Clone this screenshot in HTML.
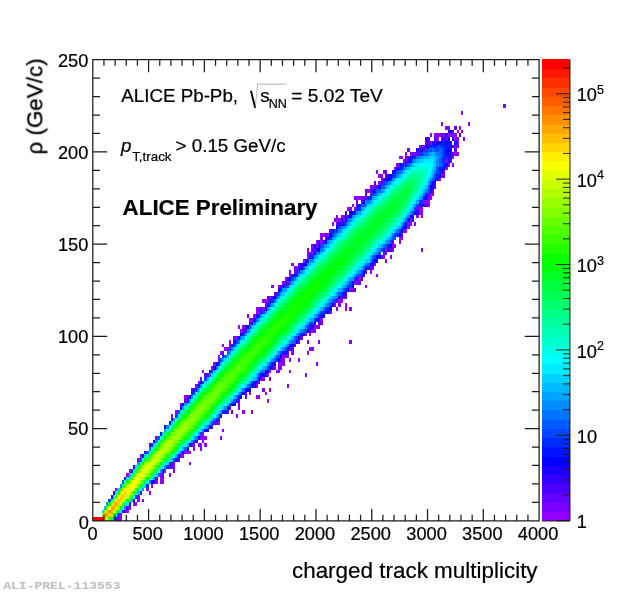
<!DOCTYPE html>
<html><head><meta charset="utf-8"><title>ALICE Preliminary</title>
<style>html,body{margin:0;padding:0;background:#fff;}body{width:620px;height:592px;position:relative;overflow:hidden;}</style>
</head><body>
<svg width="620" height="592" viewBox="0 0 620 592" style="position:absolute;left:0;top:0">
<rect width="620" height="592" fill="#fff"/>
<defs><filter id="soft" filterUnits="userSpaceOnUse" x="0" y="0" width="620" height="592"><feGaussianBlur stdDeviation="0.45"/></filter></defs>
<g shape-rendering="crispEdges" filter="url(#soft)">
<path fill="#9200ff" d="M119.58 517.11H121.81V520.80H119.58zM119.58 513.42H121.81V517.11H119.58zM126.27 509.73H128.50V513.42H126.27zM128.50 506.04H130.74V509.73H128.50zM132.97 502.36H137.43V506.04H132.97zM137.43 498.67H139.66V502.36H137.43zM141.89 498.67H144.12V502.36H141.89zM137.43 494.98H139.66V498.67H137.43zM148.59 491.29H150.82V494.98H148.59zM115.11 487.60H117.35V491.29H115.11zM146.36 487.60H148.59V491.29H146.36zM150.82 483.91H153.05V487.60H150.82zM155.28 480.22H157.51V483.91H155.28zM159.75 480.22H164.21V483.91H159.75zM159.75 476.53H164.21V480.22H159.75zM126.27 472.85H128.50V476.53H126.27zM159.75 472.85H161.98V476.53H159.75zM168.67 472.85H170.90V476.53H168.67zM128.50 469.16H130.74V472.85H128.50zM164.21 469.16H166.44V472.85H164.21zM173.13 469.16H175.37V472.85H173.13zM168.67 465.47H170.90V469.16H168.67zM173.13 465.47H175.37V469.16H173.13zM173.13 461.78H175.37V465.47H173.13zM188.75 461.78H190.99V465.47H188.75zM137.43 458.09H139.66V461.78H137.43zM139.66 454.40H141.89V458.09H139.66zM179.83 454.40H184.29V458.09H179.83zM184.29 450.71H190.99V454.40H184.29zM193.22 447.02H195.45V450.71H193.22zM199.91 447.02H202.14V450.71H199.91zM193.22 443.34H195.45V447.02H193.22zM197.68 443.34H202.14V447.02H197.68zM204.38 443.34H206.61V447.02H204.38zM202.14 439.65H204.38V443.34H202.14zM155.28 435.96H157.51V439.65H155.28zM199.91 435.96H206.61V439.65H199.91zM220.00 435.96H222.23V439.65H220.00zM202.14 432.27H204.38V435.96H202.14zM222.23 428.58H224.46V432.27H222.23zM217.76 421.20H220.00V424.89H217.76zM170.90 413.82H173.13V417.51H170.90zM235.62 413.82H237.85V417.51H235.62zM175.37 410.14H177.60V413.82H175.37zM242.31 410.14H244.54V413.82H242.31zM251.24 410.14H253.47V413.82H251.24zM237.85 406.45H240.08V410.14H237.85zM179.83 402.76H182.06V406.45H179.83zM266.86 399.07H269.09V402.76H266.86zM184.29 395.38H186.52V399.07H184.29zM255.70 395.38H260.16V399.07H255.70zM249.00 391.69H251.24V395.38H249.00zM264.63 391.69H266.86V395.38H264.63zM262.39 388.00H264.63V391.69H262.39zM269.09 388.00H271.32V391.69H269.09zM195.45 384.31H197.68V388.00H195.45zM255.70 384.31H257.93V388.00H255.70zM286.94 384.31H289.17V388.00H286.94zM197.68 380.63H199.91V384.31H197.68zM257.93 380.63H260.16V384.31H257.93zM199.91 376.94H202.14V380.63H199.91zM262.39 376.94H264.63V380.63H262.39zM269.09 376.94H271.32V380.63H269.09zM266.86 373.25H269.09V376.94H266.86zM304.79 373.25H307.02V376.94H304.79zM202.14 369.56H204.38V373.25H202.14zM269.09 369.56H271.32V373.25H269.09zM275.78 369.56H280.25V373.25H275.78zM289.17 369.56H291.40V373.25H289.17zM211.07 365.87H213.30V369.56H211.07zM273.55 365.87H275.78V369.56H273.55zM278.01 365.87H282.48V369.56H278.01zM213.30 362.18H215.53V365.87H213.30zM278.01 362.18H284.71V365.87H278.01zM315.95 362.18H318.18V365.87H315.95zM217.76 358.49H220.00V362.18H217.76zM282.48 358.49H284.71V362.18H282.48zM289.17 358.49H291.40V362.18H289.17zM298.10 358.49H300.33V362.18H298.10zM217.76 354.80H220.00V358.49H217.76zM282.48 354.80H289.17V358.49H282.48zM220.00 351.12H222.23V354.80H220.00zM291.40 351.12H293.63V354.80H291.40zM307.02 351.12H309.26V354.80H307.02zM224.46 347.43H228.92V351.12H224.46zM309.26 347.43H313.72V351.12H309.26zM222.23 343.74H224.46V347.43H222.23zM228.92 343.74H231.15V347.43H228.92zM228.92 340.05H231.15V343.74H228.92zM298.10 340.05H300.33V343.74H298.10zM307.02 340.05H309.26V343.74H307.02zM318.18 340.05H320.41V343.74H318.18zM349.42 340.05H351.65V343.74H349.42zM233.38 336.36H237.85V340.05H233.38zM304.79 332.67H307.02V336.36H304.79zM309.26 332.67H311.49V336.36H309.26zM240.08 328.98H242.31V332.67H240.08zM311.49 328.98H315.95V332.67H311.49zM237.85 325.29H240.08V328.98H237.85zM242.31 325.29H244.54V328.98H242.31zM313.72 325.29H320.41V328.98H313.72zM249.00 317.92H253.47V321.60H249.00zM320.41 317.92H322.64V321.60H320.41zM246.77 314.23H249.00V317.92H246.77zM253.47 314.23H255.70V317.92H253.47zM255.70 310.54H260.16V314.23H255.70zM329.34 310.54H331.57V314.23H329.34zM255.70 306.85H260.16V310.54H255.70zM262.39 306.85H264.63V310.54H262.39zM336.03 306.85H338.26V310.54H336.03zM344.96 306.85H347.19V310.54H344.96zM349.42 306.85H351.65V310.54H349.42zM333.80 303.16H336.03V306.85H333.80zM338.26 303.16H340.50V306.85H338.26zM344.96 303.16H347.19V306.85H344.96zM262.39 299.47H269.09V303.16H262.39zM338.26 299.47H342.73V303.16H338.26zM269.09 295.78H271.32V299.47H269.09zM349.42 288.41H353.89V292.09H349.42zM271.32 284.72H273.55V288.41H271.32zM278.01 284.72H280.25V288.41H278.01zM365.04 284.72H367.27V288.41H365.04zM282.48 281.03H284.71V284.72H282.48zM353.89 281.03H358.35V284.72H353.89zM284.71 277.34H286.94V281.03H284.71zM358.35 277.34H360.58V281.03H358.35zM289.17 273.65H291.40V277.34H289.17zM376.20 273.65H378.43V277.34H376.20zM289.17 269.96H291.40V273.65H289.17zM369.51 269.96H371.74V273.65H369.51zM293.63 266.27H298.10V269.96H293.63zM371.74 266.27H373.97V269.96H371.74zM291.40 262.58H293.63V266.27H291.40zM373.97 262.58H376.20V266.27H373.97zM302.56 258.90H304.79V262.58H302.56zM385.13 258.90H387.36V262.58H385.13zM307.02 255.21H309.26V258.90H307.02zM382.90 255.21H385.13V258.90H382.90zM389.59 255.21H391.82V258.90H389.59zM307.02 251.52H309.26V255.21H307.02zM311.49 251.52H313.72V255.21H311.49zM307.02 247.83H309.26V251.52H307.02zM385.13 247.83H387.36V251.52H385.13zM420.83 247.83H423.06V251.52H420.83zM311.49 244.14H313.72V247.83H311.49zM315.95 244.14H318.18V247.83H315.95zM391.82 244.14H396.28V247.83H391.82zM315.95 240.45H318.18V244.14H315.95zM320.41 240.45H322.64V244.14H320.41zM398.52 240.45H400.75V244.14H398.52zM320.41 236.76H322.64V240.45H320.41zM398.52 236.76H402.98V240.45H398.52zM320.41 233.07H324.88V236.76H320.41zM327.11 233.07H329.34V236.76H327.11zM402.98 229.38H407.44V233.07H402.98zM407.44 225.70H409.67V229.38H407.44zM331.57 222.01H333.80V225.70H331.57zM407.44 222.01H411.90V225.70H407.44zM414.14 222.01H416.37V225.70H414.14zM333.80 218.32H340.50V222.01H333.80zM342.73 218.32H344.96V222.01H342.73zM409.67 218.32H411.90V222.01H409.67zM336.03 214.63H338.26V218.32H336.03zM340.50 214.63H344.96V218.32H340.50zM416.37 214.63H418.60V218.32H416.37zM420.83 214.63H423.06V218.32H420.83zM418.60 210.94H423.06V214.63H418.60zM347.19 207.25H351.65V210.94H347.19zM353.89 207.25H356.12V210.94H353.89zM418.60 207.25H423.06V210.94H418.60zM351.65 203.56H353.89V207.25H351.65zM427.53 203.56H429.76V207.25H427.53zM423.06 199.87H429.76V203.56H423.06zM353.89 196.19H362.81V199.87H353.89zM427.53 196.19H431.99V199.87H427.53zM429.76 192.50H434.22V196.19H429.76zM367.27 188.81H369.51V192.50H367.27zM369.51 185.12H373.97V188.81H369.51zM378.43 181.43H380.66V185.12H378.43zM380.66 177.74H382.90V181.43H380.66zM438.68 177.74H440.91V181.43H438.68zM378.43 174.05H382.90V177.74H378.43zM440.91 174.05H443.15V177.74H440.91zM376.20 170.36H378.43V174.05H376.20zM382.90 170.36H385.13V174.05H382.90zM394.05 166.68H396.28V170.36H394.05zM445.38 166.68H447.61V170.36H445.38zM396.28 162.99H398.52V166.68H396.28zM447.61 162.99H449.84V166.68H447.61zM452.07 162.99H454.30V166.68H452.07zM402.98 159.30H405.21V162.99H402.98zM445.38 159.30H447.61V162.99H445.38zM398.52 155.61H402.98V159.30H398.52zM405.21 155.61H407.44V159.30H405.21zM452.07 155.61H454.30V159.30H452.07zM405.21 151.92H407.44V155.61H405.21zM409.67 151.92H414.14V155.61H409.67zM454.30 151.92H458.77V155.61H454.30zM407.44 148.23H409.67V151.92H407.44zM418.60 144.54H423.06V148.23H418.60zM454.30 144.54H456.53V148.23H454.30zM429.76 140.85H431.99V144.54H429.76zM456.53 140.85H458.77V144.54H456.53zM436.45 137.16H438.68V140.85H436.45zM454.30 137.16H458.77V140.85H454.30zM463.23 137.16H465.46V140.85H463.23zM429.76 133.48H431.99V137.16H429.76zM434.22 133.48H440.91V137.16H434.22zM443.15 133.48H445.38V137.16H443.15zM447.61 133.48H449.84V137.16H447.61zM452.07 133.48H456.53V137.16H452.07zM456.53 129.79H458.77V133.48H456.53zM461.00 129.79H463.23V133.48H461.00zM445.38 126.10H449.84V129.79H445.38zM458.77 126.10H461.00V129.79H458.77zM440.91 122.41H443.15V126.10H440.91zM467.69 122.41H469.92V126.10H467.69zM461.00 111.34H463.23V115.03H461.00zM503.40 103.97H505.63V107.65H503.40z"/>
<path fill="#6300ff" d="M115.11 517.11H119.58V520.80H115.11zM124.04 509.73H126.27V513.42H124.04zM126.27 506.04H128.50V509.73H126.27zM155.28 476.53H157.51V480.22H155.28zM161.98 472.85H164.21V476.53H161.98zM170.90 465.47H173.13V469.16H170.90zM170.90 461.78H173.13V465.47H170.90zM177.60 458.09H179.83V461.78H177.60zM144.12 450.71H146.36V454.40H144.12zM148.59 443.34H150.82V447.02H148.59zM190.99 443.34H193.22V447.02H190.99zM211.07 424.89H213.30V428.58H211.07zM213.30 421.20H217.76V424.89H213.30zM226.69 410.14H228.92V413.82H226.69zM231.15 410.14H233.38V413.82H231.15zM228.92 406.45H231.15V410.14H228.92zM237.85 402.76H240.08V406.45H237.85zM184.29 399.07H186.52V402.76H184.29zM237.85 399.07H240.08V402.76H237.85zM186.52 395.38H188.75V399.07H186.52zM244.54 395.38H246.77V399.07H244.54zM244.54 391.69H246.77V395.38H244.54zM190.99 388.00H193.22V391.69H190.99zM260.16 376.94H262.39V380.63H260.16zM204.38 373.25H208.84V376.94H204.38zM280.25 358.49H282.48V362.18H280.25zM222.23 351.12H224.46V354.80H222.23zM286.94 351.12H289.17V354.80H286.94zM289.17 347.43H293.63V351.12H289.17zM293.63 343.74H295.87V347.43H293.63zM300.33 336.36H302.56V340.05H300.33zM242.31 328.98H244.54V332.67H242.31zM309.26 325.29H311.49V328.98H309.26zM249.00 321.60H251.24V325.29H249.00zM318.18 321.60H322.64V325.29H318.18zM260.16 310.54H262.39V314.23H260.16zM264.63 303.16H266.86V306.85H264.63zM336.03 299.47H338.26V303.16H336.03zM266.86 295.78H269.09V299.47H266.86zM340.50 295.78H347.19V299.47H340.50zM273.55 292.09H278.01V295.78H273.55zM353.89 288.41H356.12V292.09H353.89zM280.25 284.72H282.48V288.41H280.25zM286.94 281.03H289.17V284.72H286.94zM358.35 281.03H360.58V284.72H358.35zM360.58 277.34H362.81V281.03H360.58zM360.58 273.65H362.81V277.34H360.58zM293.63 269.96H298.10V273.65H293.63zM365.04 269.96H367.27V273.65H365.04zM369.51 266.27H371.74V269.96H369.51zM298.10 262.58H300.33V266.27H298.10zM380.66 255.21H382.90V258.90H380.66zM309.26 251.52H311.49V255.21H309.26zM382.90 251.52H387.36V255.21H382.90zM311.49 247.83H315.95V251.52H311.49zM389.59 247.83H394.05V251.52H389.59zM391.82 240.45H394.05V244.14H391.82zM324.88 236.76H327.11V240.45H324.88zM324.88 233.07H327.11V236.76H324.88zM400.75 233.07H402.98V236.76H400.75zM329.34 229.38H331.57V233.07H329.34zM336.03 222.01H338.26V225.70H336.03zM344.96 214.63H347.19V218.32H344.96zM416.37 207.25H418.60V210.94H416.37zM356.12 203.56H358.35V207.25H356.12zM425.29 203.56H427.53V207.25H425.29zM356.12 199.87H358.35V203.56H356.12zM360.58 199.87H362.81V203.56H360.58zM362.81 196.19H367.27V199.87H362.81zM365.04 192.50H367.27V196.19H365.04zM369.51 192.50H371.74V196.19H369.51zM427.53 192.50H429.76V196.19H427.53zM365.04 188.81H367.27V192.50H365.04zM369.51 188.81H371.74V192.50H369.51zM431.99 188.81H434.22V192.50H431.99zM373.97 185.12H378.43V188.81H373.97zM434.22 185.12H436.45V188.81H434.22zM373.97 181.43H376.20V185.12H373.97zM385.13 174.05H387.36V177.74H385.13zM443.15 174.05H445.38V177.74H443.15zM385.13 170.36H387.36V174.05H385.13zM443.15 170.36H445.38V174.05H443.15zM405.21 159.30H407.44V162.99H405.21zM449.84 159.30H452.07V162.99H449.84zM407.44 155.61H409.67V159.30H407.44zM414.14 151.92H418.60V155.61H414.14zM452.07 151.92H454.30V155.61H452.07zM423.06 148.23H425.29V151.92H423.06zM454.30 148.23H456.53V151.92H454.30zM423.06 144.54H425.29V148.23H423.06zM456.53 144.54H458.77V148.23H456.53zM425.29 140.85H427.53V144.54H425.29zM427.53 137.16H429.76V140.85H427.53zM434.22 137.16H436.45V140.85H434.22zM440.91 137.16H443.15V140.85H440.91zM445.38 137.16H447.61V140.85H445.38zM440.91 133.48H443.15V137.16H440.91zM449.84 133.48H452.07V137.16H449.84zM452.07 129.79H454.30V133.48H452.07zM454.30 126.10H456.53V129.79H454.30z"/>
<path fill="#3300ff" d="M110.65 494.98H112.88V498.67H110.65zM112.88 491.29H115.11V494.98H112.88zM153.05 480.22H155.28V483.91H153.05zM124.04 476.53H126.27V480.22H124.04zM132.97 465.47H135.20V469.16H132.97zM153.05 439.65H155.28V443.34H153.05zM195.45 439.65H197.68V443.34H195.45zM206.61 428.58H208.84V432.27H206.61zM164.21 424.89H166.44V428.58H164.21zM170.90 417.51H173.13V421.20H170.90zM179.83 406.45H182.06V410.14H179.83zM233.38 402.76H235.62V406.45H233.38zM193.22 388.00H195.45V391.69H193.22zM251.24 384.31H253.47V388.00H251.24zM255.70 380.63H257.93V384.31H255.70zM264.63 373.25H266.86V376.94H264.63zM269.09 365.87H273.55V369.56H269.09zM282.48 351.12H284.71V354.80H282.48zM231.15 343.74H233.38V347.43H231.15zM233.38 340.05H235.62V343.74H233.38zM302.56 332.67H304.79V336.36H302.56zM309.26 328.98H311.49V332.67H309.26zM253.47 317.92H255.70V321.60H253.47zM318.18 317.92H320.41V321.60H318.18zM255.70 314.23H257.93V317.92H255.70zM322.64 314.23H324.88V317.92H322.64zM271.32 295.78H273.55V299.47H271.32zM342.73 292.09H347.19V295.78H342.73zM284.71 281.03H286.94V284.72H284.71zM286.94 277.34H289.17V281.03H286.94zM356.12 277.34H358.35V281.03H356.12zM362.81 273.65H365.04V277.34H362.81zM298.10 266.27H300.33V269.96H298.10zM300.33 262.58H302.56V266.27H300.33zM387.36 247.83H389.59V251.52H387.36zM318.18 244.14H320.41V247.83H318.18zM387.36 244.14H389.59V247.83H387.36zM318.18 240.45H320.41V244.14H318.18zM331.57 229.38H333.80V233.07H331.57zM338.26 222.01H342.73V225.70H338.26zM411.90 218.32H414.14V222.01H411.90zM411.90 214.63H414.14V218.32H411.90zM344.96 210.94H347.19V214.63H344.96zM416.37 210.94H418.60V214.63H416.37zM418.60 203.56H420.83V207.25H418.60zM423.06 203.56H425.29V207.25H423.06zM380.66 181.43H382.90V185.12H380.66zM434.22 181.43H436.45V185.12H434.22zM382.90 177.74H385.13V181.43H382.90zM436.45 177.74H438.68V181.43H436.45zM387.36 174.05H389.59V177.74H387.36zM391.82 170.36H394.05V174.05H391.82zM407.44 159.30H409.67V162.99H407.44zM409.67 155.61H411.90V159.30H409.67zM447.61 155.61H449.84V159.30H447.61zM449.84 151.92H452.07V155.61H449.84zM416.37 148.23H420.83V151.92H416.37zM427.53 144.54H429.76V148.23H427.53zM449.84 144.54H452.07V148.23H449.84zM427.53 140.85H429.76V144.54H427.53zM434.22 140.85H436.45V144.54H434.22zM438.68 140.85H440.91V144.54H438.68zM449.84 140.85H452.07V144.54H449.84zM425.29 137.16H427.53V140.85H425.29zM443.15 137.16H445.38V140.85H443.15zM445.38 133.48H447.61V137.16H445.38zM458.77 133.48H461.00V137.16H458.77z"/>
<path fill="#1b00ff" d="M132.97 498.67H135.20V502.36H132.97zM150.82 480.22H153.05V483.91H150.82zM175.37 458.09H177.60V461.78H175.37zM182.06 450.71H184.29V454.40H182.06zM197.68 435.96H199.91V439.65H197.68zM182.06 402.76H184.29V406.45H182.06zM242.31 391.69H244.54V395.38H242.31zM244.54 388.00H249.00V391.69H244.54zM262.39 373.25H264.63V376.94H262.39zM266.86 369.56H269.09V373.25H266.86zM213.30 365.87H215.53V369.56H213.30zM273.55 362.18H275.78V365.87H273.55zM286.94 347.43H289.17V351.12H286.94zM291.40 343.74H293.63V347.43H291.40zM298.10 336.36H300.33V340.05H298.10zM240.08 332.67H242.31V336.36H240.08zM307.02 328.98H309.26V332.67H307.02zM244.54 325.29H249.00V328.98H244.54zM313.72 321.60H315.95V325.29H313.72zM260.16 306.85H262.39V310.54H260.16zM278.01 288.41H280.25V292.09H278.01zM347.19 288.41H349.42V292.09H347.19zM300.33 266.27H302.56V269.96H300.33zM304.79 262.58H307.02V266.27H304.79zM371.74 262.58H373.97V266.27H371.74zM376.20 258.90H378.43V262.58H376.20zM378.43 255.21H380.66V258.90H378.43zM313.72 244.14H315.95V247.83H313.72zM322.64 240.45H324.88V244.14H322.64zM398.52 233.07H400.75V236.76H398.52zM405.21 225.70H407.44V229.38H405.21zM347.19 214.63H349.42V218.32H347.19zM409.67 214.63H411.90V218.32H409.67zM420.83 203.56H423.06V207.25H420.83zM423.06 196.19H427.53V199.87H423.06zM371.74 188.81H376.20V192.50H371.74zM431.99 185.12H434.22V188.81H431.99zM385.13 177.74H387.36V181.43H385.13zM438.68 174.05H440.91V177.74H438.68zM440.91 170.36H443.15V174.05H440.91zM396.28 166.68H398.52V170.36H396.28zM443.15 166.68H445.38V170.36H443.15zM447.61 159.30H449.84V162.99H447.61zM449.84 148.23H452.07V151.92H449.84zM452.07 144.54H454.30V148.23H452.07zM431.99 140.85H434.22V144.54H431.99zM445.38 140.85H447.61V144.54H445.38zM452.07 137.16H454.30V140.85H452.07zM449.84 129.79H452.07V133.48H449.84z"/>
<path fill="#0300ff" d="M128.50 502.36H130.74V506.04H128.50zM186.52 447.02H188.75V450.71H186.52zM188.75 443.34H190.99V447.02H188.75zM204.38 428.58H206.61V432.27H204.38zM208.84 424.89H211.07V428.58H208.84zM231.15 402.76H233.38V406.45H231.15zM240.08 395.38H242.31V399.07H240.08zM249.00 388.00H251.24V391.69H249.00zM199.91 380.63H202.14V384.31H199.91zM264.63 369.56H266.86V373.25H264.63zM215.53 362.18H217.76V365.87H215.53zM280.25 354.80H282.48V358.49H280.25zM295.87 340.05H298.10V343.74H295.87zM327.11 310.54H329.34V314.23H327.11zM329.34 306.85H331.57V310.54H329.34zM331.57 303.16H333.80V306.85H331.57zM273.55 295.78H275.78V299.47H273.55zM351.65 284.72H353.89V288.41H351.65zM289.17 277.34H291.40V281.03H289.17zM302.56 262.58H304.79V266.27H302.56zM376.20 255.21H378.43V258.90H376.20zM318.18 247.83H320.41V251.52H318.18zM389.59 244.14H391.82V247.83H389.59zM329.34 233.07H331.57V236.76H329.34zM400.75 229.38H402.98V233.07H400.75zM336.03 225.70H338.26V229.38H336.03zM402.98 225.70H405.21V229.38H402.98zM340.50 218.32H342.73V222.01H340.50zM344.96 218.32H347.19V222.01H344.96zM349.42 214.63H351.65V218.32H349.42zM349.42 210.94H353.89V214.63H349.42zM429.76 185.12H431.99V188.81H429.76zM387.36 177.74H389.59V181.43H387.36zM447.61 148.23H449.84V151.92H447.61zM425.29 144.54H427.53V148.23H425.29zM436.45 140.85H438.68V144.54H436.45zM447.61 137.16H449.84V140.85H447.61z"/>
<path fill="#0014ff" d="M121.81 509.73H124.04V513.42H121.81zM161.98 469.16H164.21V472.85H161.98zM141.89 454.40H144.12V458.09H141.89zM177.60 454.40H179.83V458.09H177.60zM159.75 432.27H161.98V435.96H159.75zM168.67 421.20H170.90V424.89H168.67zM220.00 413.82H222.23V417.51H220.00zM222.23 410.14H226.69V413.82H222.23zM226.69 406.45H228.92V410.14H226.69zM186.52 399.07H188.75V402.76H186.52zM235.62 399.07H237.85V402.76H235.62zM188.75 395.38H190.99V399.07H188.75zM237.85 395.38H240.08V399.07H237.85zM197.68 384.31H199.91V388.00H197.68zM253.47 384.31H255.70V388.00H253.47zM253.47 380.63H255.70V384.31H253.47zM257.93 376.94H260.16V380.63H257.93zM260.16 373.25H262.39V376.94H260.16zM208.84 369.56H211.07V373.25H208.84zM271.32 362.18H273.55V365.87H271.32zM278.01 358.49H280.25V362.18H278.01zM284.71 351.12H286.94V354.80H284.71zM289.17 343.74H291.40V347.43H289.17zM237.85 336.36H240.08V340.05H237.85zM311.49 325.29H313.72V328.98H311.49zM309.26 321.60H311.49V325.29H309.26zM315.95 317.92H318.18V321.60H315.95zM320.41 314.23H322.64V317.92H320.41zM324.88 310.54H327.11V314.23H324.88zM264.63 306.85H266.86V310.54H264.63zM266.86 303.16H269.09V306.85H266.86zM269.09 299.47H271.32V303.16H269.09zM338.26 295.78H340.50V299.47H338.26zM282.48 284.72H284.71V288.41H282.48zM351.65 281.03H353.89V284.72H351.65zM293.63 273.65H295.87V277.34H293.63zM362.81 269.96H365.04V273.65H362.81zM365.04 266.27H367.27V269.96H365.04zM369.51 262.58H371.74V266.27H369.51zM304.79 258.90H307.02V262.58H304.79zM373.97 258.90H376.20V262.58H373.97zM309.26 255.21H311.49V258.90H309.26zM313.72 251.52H315.95V255.21H313.72zM315.95 247.83H318.18V251.52H315.95zM324.88 240.45H327.11V244.14H324.88zM342.73 222.01H344.96V225.70H342.73zM405.21 222.01H407.44V225.70H405.21zM407.44 218.32H409.67V222.01H407.44zM414.14 210.94H416.37V214.63H414.14zM358.35 203.56H360.58V207.25H358.35zM362.81 199.87H365.04V203.56H362.81zM429.76 188.81H431.99V192.50H429.76zM378.43 185.12H380.66V188.81H378.43zM431.99 181.43H434.22V185.12H431.99zM389.59 177.74H391.82V181.43H389.59zM389.59 174.05H391.82V177.74H389.59zM394.05 170.36H396.28V174.05H394.05zM400.75 166.68H402.98V170.36H400.75zM438.68 166.68H440.91V170.36H438.68zM398.52 162.99H402.98V166.68H398.52zM443.15 162.99H447.61V166.68H443.15zM409.67 159.30H411.90V162.99H409.67zM411.90 155.61H414.14V159.30H411.90zM445.38 151.92H449.84V155.61H445.38zM420.83 148.23H423.06V151.92H420.83zM445.38 148.23H447.61V151.92H445.38zM434.22 144.54H436.45V148.23H434.22zM445.38 144.54H449.84V148.23H445.38zM440.91 140.85H443.15V144.54H440.91zM447.61 140.85H449.84V144.54H447.61zM454.30 140.85H456.53V144.54H454.30zM447.61 129.79H449.84V133.48H447.61z"/>
<path fill="#002cff" d="M135.20 494.98H137.43V498.67H135.20zM139.66 491.29H141.89V494.98H139.66zM146.36 483.91H148.59V487.60H146.36zM130.74 469.16H132.97V472.85H130.74zM166.44 465.47H168.67V469.16H166.44zM168.67 461.78H170.90V465.47H168.67zM150.82 443.34H153.05V447.02H150.82zM215.53 417.51H220.00V421.20H215.53zM190.99 391.69H193.22V395.38H190.99zM217.76 362.18H220.00V365.87H217.76zM275.78 358.49H278.01V362.18H275.78zM222.23 354.80H224.46V358.49H222.23zM242.31 332.67H244.54V336.36H242.31zM300.33 332.67H302.56V336.36H300.33zM244.54 328.98H246.77V332.67H244.54zM251.24 321.60H253.47V325.29H251.24zM257.93 314.23H260.16V317.92H257.93zM318.18 314.23H320.41V317.92H318.18zM322.64 310.54H324.88V314.23H322.64zM324.88 306.85H329.34V310.54H324.88zM271.32 299.47H273.55V303.16H271.32zM340.50 292.09H342.73V295.78H340.50zM280.25 288.41H282.48V292.09H280.25zM344.96 288.41H347.19V292.09H344.96zM347.19 284.72H349.42V288.41H347.19zM291.40 273.65H293.63V277.34H291.40zM295.87 273.65H298.10V277.34H295.87zM367.27 266.27H369.51V269.96H367.27zM307.02 258.90H309.26V262.58H307.02zM371.74 258.90H373.97V262.58H371.74zM311.49 255.21H313.72V258.90H311.49zM382.90 247.83H385.13V251.52H382.90zM327.11 236.76H331.57V240.45H327.11zM394.05 233.07H398.52V236.76H394.05zM336.03 229.38H338.26V233.07H336.03zM353.89 210.94H356.12V214.63H353.89zM356.12 207.25H360.58V210.94H356.12zM418.60 199.87H420.83V203.56H418.60zM367.27 196.19H371.74V199.87H367.27zM425.29 192.50H427.53V196.19H425.29zM434.22 177.74H436.45V181.43H434.22zM391.82 174.05H396.28V177.74H391.82zM436.45 174.05H438.68V177.74H436.45zM438.68 170.36H440.91V174.05H438.68zM398.52 166.68H400.75V170.36H398.52zM440.91 166.68H443.15V170.36H440.91zM405.21 162.99H407.44V166.68H405.21zM443.15 159.30H445.38V162.99H443.15zM414.14 155.61H416.37V159.30H414.14zM443.15 155.61H447.61V159.30H443.15zM449.84 155.61H452.07V159.30H449.84zM420.83 151.92H423.06V155.61H420.83zM443.15 151.92H445.38V155.61H443.15zM443.15 148.23H445.38V151.92H443.15zM429.76 144.54H434.22V148.23H429.76zM440.91 144.54H445.38V148.23H440.91zM443.15 140.85H445.38V144.54H443.15z"/>
<path fill="#0044ff" d="M117.35 513.42H119.58V517.11H117.35zM108.42 498.67H110.65V502.36H108.42zM121.81 480.22H124.04V483.91H121.81zM173.13 458.09H175.37V461.78H173.13zM193.22 439.65H195.45V443.34H193.22zM199.91 432.27H202.14V435.96H199.91zM175.37 413.82H177.60V417.51H175.37zM228.92 402.76H231.15V406.45H228.92zM233.38 399.07H235.62V402.76H233.38zM193.22 391.69H195.45V395.38H193.22zM195.45 388.00H197.68V391.69H195.45zM249.00 384.31H251.24V388.00H249.00zM202.14 380.63H204.38V384.31H202.14zM251.24 380.63H253.47V384.31H251.24zM204.38 376.94H206.61V380.63H204.38zM211.07 369.56H213.30V373.25H211.07zM266.86 365.87H269.09V369.56H266.86zM220.00 358.49H222.23V362.18H220.00zM275.78 354.80H278.01V358.49H275.78zM280.25 351.12H282.48V354.80H280.25zM228.92 347.43H231.15V351.12H228.92zM284.71 347.43H286.94V351.12H284.71zM233.38 343.74H235.62V347.43H233.38zM235.62 340.05H237.85V343.74H235.62zM295.87 336.36H298.10V340.05H295.87zM304.79 328.98H307.02V332.67H304.79zM307.02 325.29H309.26V328.98H307.02zM311.49 321.60H313.72V325.29H311.49zM313.72 317.92H315.95V321.60H313.72zM262.39 310.54H264.63V314.23H262.39zM320.41 310.54H322.64V314.23H320.41zM269.09 303.16H271.32V306.85H269.09zM329.34 303.16H331.57V306.85H329.34zM333.80 299.47H336.03V303.16H333.80zM275.78 295.78H278.01V299.47H275.78zM278.01 292.09H280.25V295.78H278.01zM342.73 288.41H344.96V292.09H342.73zM284.71 284.72H286.94V288.41H284.71zM349.42 284.72H351.65V288.41H349.42zM349.42 281.03H351.65V284.72H349.42zM291.40 277.34H293.63V281.03H291.40zM353.89 277.34H356.12V281.03H353.89zM358.35 273.65H360.58V277.34H358.35zM298.10 269.96H300.33V273.65H298.10zM360.58 269.96H362.81V273.65H360.58zM302.56 266.27H304.79V269.96H302.56zM373.97 255.21H376.20V258.90H373.97zM378.43 251.52H380.66V255.21H378.43zM380.66 247.83H382.90V251.52H380.66zM320.41 244.14H322.64V247.83H320.41zM389.59 240.45H391.82V244.14H389.59zM391.82 236.76H394.05V240.45H391.82zM331.57 233.07H333.80V236.76H331.57zM333.80 229.38H336.03V233.07H333.80zM398.52 229.38H400.75V233.07H398.52zM338.26 225.70H340.50V229.38H338.26zM402.98 222.01H405.21V225.70H402.98zM411.90 210.94H414.14V214.63H411.90zM414.14 207.25H416.37V210.94H414.14zM362.81 203.56H365.04V207.25H362.81zM416.37 203.56H418.60V207.25H416.37zM420.83 199.87H423.06V203.56H420.83zM371.74 192.50H376.20V196.19H371.74zM427.53 188.81H429.76V192.50H427.53zM382.90 185.12H385.13V188.81H382.90zM382.90 181.43H387.36V185.12H382.90zM429.76 181.43H431.99V185.12H429.76zM434.22 174.05H436.45V177.74H434.22zM396.28 170.36H398.52V174.05H396.28zM436.45 170.36H438.68V174.05H436.45zM436.45 166.68H438.68V170.36H436.45zM402.98 162.99H405.21V166.68H402.98zM440.91 159.30H443.15V162.99H440.91zM440.91 155.61H443.15V159.30H440.91zM418.60 151.92H420.83V155.61H418.60zM425.29 148.23H427.53V151.92H425.29zM429.76 148.23H431.99V151.92H429.76zM436.45 148.23H438.68V151.92H436.45zM436.45 144.54H440.91V148.23H436.45z"/>
<path fill="#005cff" d="M157.51 472.85H159.75V476.53H157.51zM139.66 458.09H141.89V461.78H139.66zM146.36 450.71H148.59V454.40H146.36zM184.29 447.02H186.52V450.71H184.29zM157.51 435.96H159.75V439.65H157.51zM211.07 421.20H213.30V424.89H211.07zM217.76 413.82H220.00V417.51H217.76zM177.60 410.14H179.83V413.82H177.60zM240.08 391.69H242.31V395.38H240.08zM257.93 373.25H260.16V376.94H257.93zM269.09 362.18H271.32V365.87H269.09zM273.55 358.49H275.78V362.18H273.55zM224.46 354.80H226.69V358.49H224.46zM278.01 354.80H280.25V358.49H278.01zM226.69 351.12H228.92V354.80H226.69zM291.40 340.05H295.87V343.74H291.40zM293.63 336.36H295.87V340.05H293.63zM298.10 332.67H300.33V336.36H298.10zM302.56 328.98H304.79V332.67H302.56zM249.00 325.29H251.24V328.98H249.00zM255.70 317.92H257.93V321.60H255.70zM273.55 299.47H275.78V303.16H273.55zM331.57 299.47H333.80V303.16H331.57zM338.26 292.09H340.50V295.78H338.26zM286.94 284.72H289.17V288.41H286.94zM289.17 281.03H291.40V284.72H289.17zM356.12 273.65H358.35V277.34H356.12zM362.81 266.27H365.04V269.96H362.81zM367.27 262.58H369.51V266.27H367.27zM371.74 255.21H373.97V258.90H371.74zM382.90 244.14H387.36V247.83H382.90zM394.05 236.76H396.28V240.45H394.05zM400.75 225.70H402.98V229.38H400.75zM344.96 222.01H347.19V225.70H344.96zM360.58 203.56H362.81V207.25H360.58zM376.20 188.81H380.66V192.50H376.20zM380.66 185.12H382.90V188.81H380.66zM427.53 185.12H429.76V188.81H427.53zM431.99 177.74H434.22V181.43H431.99zM398.52 170.36H400.75V174.05H398.52zM407.44 162.99H409.67V166.68H407.44zM438.68 162.99H443.15V166.68H438.68zM438.68 159.30H440.91V162.99H438.68zM425.29 151.92H427.53V155.61H425.29zM440.91 151.92H443.15V155.61H440.91zM427.53 148.23H429.76V151.92H427.53zM434.22 148.23H436.45V151.92H434.22zM440.91 148.23H443.15V151.92H440.91z"/>
<path fill="#0074ff" d="M112.88 517.11H115.11V520.80H112.88zM148.59 480.22H150.82V483.91H148.59zM153.05 476.53H155.28V480.22H153.05zM179.83 450.71H182.06V454.40H179.83zM148.59 447.02H150.82V450.71H148.59zM195.45 435.96H197.68V439.65H195.45zM206.61 424.89H208.84V428.58H206.61zM213.30 417.51H215.53V421.20H213.30zM235.62 395.38H237.85V399.07H235.62zM242.31 388.00H244.54V391.69H242.31zM246.77 384.31H249.00V388.00H246.77zM208.84 373.25H211.07V376.94H208.84zM262.39 369.56H264.63V373.25H262.39zM215.53 365.87H217.76V369.56H215.53zM231.15 347.43H233.38V351.12H231.15zM286.94 343.74H289.17V347.43H286.94zM237.85 340.05H240.08V343.74H237.85zM240.08 336.36H242.31V340.05H240.08zM304.79 325.29H307.02V328.98H304.79zM253.47 321.60H255.70V325.29H253.47zM322.64 306.85H324.88V310.54H322.64zM327.11 303.16H329.34V306.85H327.11zM336.03 295.78H338.26V299.47H336.03zM293.63 277.34H295.87V281.03H293.63zM365.04 262.58H367.27V266.27H365.04zM315.95 251.52H320.41V255.21H315.95zM320.41 247.83H322.64V251.52H320.41zM322.64 244.14H324.88V247.83H322.64zM333.80 233.07H336.03V236.76H333.80zM391.82 233.07H394.05V236.76H391.82zM396.28 229.38H398.52V233.07H396.28zM347.19 218.32H349.42V222.01H347.19zM405.21 218.32H407.44V222.01H405.21zM407.44 214.63H409.67V218.32H407.44zM367.27 199.87H369.51V203.56H367.27zM423.06 192.50H425.29V196.19H423.06zM425.29 188.81H427.53V192.50H425.29zM387.36 181.43H389.59V185.12H387.36zM402.98 166.68H405.21V170.36H402.98zM411.90 159.30H414.14V162.99H411.90zM416.37 155.61H418.60V159.30H416.37zM438.68 155.61H440.91V159.30H438.68zM423.06 151.92H425.29V155.61H423.06zM436.45 151.92H440.91V155.61H436.45zM431.99 148.23H434.22V151.92H431.99zM438.68 148.23H440.91V151.92H438.68z"/>
<path fill="#008bff" d="M124.04 506.04H126.27V509.73H124.04zM141.89 487.60H144.12V491.29H141.89zM119.58 483.91H121.81V487.60H119.58zM164.21 465.47H166.44V469.16H164.21zM137.43 461.78H139.66V465.47H137.43zM155.28 439.65H157.51V443.34H155.28zM190.99 439.65H193.22V443.34H190.99zM202.14 428.58H204.38V432.27H202.14zM166.44 424.89H168.67V428.58H166.44zM224.46 406.45H226.69V410.14H224.46zM190.99 395.38H193.22V399.07H190.99zM199.91 384.31H202.14V388.00H199.91zM255.70 376.94H257.93V380.63H255.70zM260.16 369.56H262.39V373.25H260.16zM264.63 365.87H266.86V369.56H264.63zM271.32 358.49H273.55V362.18H271.32zM278.01 351.12H280.25V354.80H278.01zM282.48 347.43H284.71V351.12H282.48zM289.17 340.05H291.40V343.74H289.17zM246.77 328.98H249.00V332.67H246.77zM300.33 328.98H302.56V332.67H300.33zM260.16 314.23H262.39V317.92H260.16zM315.95 314.23H318.18V317.92H315.95zM266.86 306.85H269.09V310.54H266.86zM329.34 299.47H331.57V303.16H329.34zM333.80 295.78H336.03V299.47H333.80zM282.48 288.41H284.71V292.09H282.48zM340.50 288.41H342.73V292.09H340.50zM344.96 284.72H347.19V288.41H344.96zM351.65 277.34H353.89V281.03H351.65zM300.33 269.96H302.56V273.65H300.33zM358.35 269.96H360.58V273.65H358.35zM307.02 262.58H309.26V266.27H307.02zM309.26 258.90H313.72V262.58H309.26zM369.51 258.90H371.74V262.58H369.51zM313.72 255.21H315.95V258.90H313.72zM376.20 251.52H378.43V255.21H376.20zM378.43 247.83H380.66V251.52H378.43zM327.11 240.45H329.34V244.14H327.11zM387.36 240.45H389.59V244.14H387.36zM331.57 236.76H333.80V240.45H331.57zM389.59 236.76H391.82V240.45H389.59zM338.26 229.38H340.50V233.07H338.26zM340.50 225.70H344.96V229.38H340.50zM398.52 225.70H400.75V229.38H398.52zM349.42 218.32H351.65V222.01H349.42zM351.65 214.63H353.89V218.32H351.65zM356.12 210.94H358.35V214.63H356.12zM409.67 210.94H411.90V214.63H409.67zM365.04 203.56H367.27V207.25H365.04zM414.14 203.56H416.37V207.25H414.14zM365.04 199.87H367.27V203.56H365.04zM420.83 196.19H423.06V199.87H420.83zM376.20 192.50H378.43V196.19H376.20zM380.66 188.81H382.90V192.50H380.66zM391.82 177.74H394.05V181.43H391.82zM429.76 177.74H431.99V181.43H429.76zM396.28 174.05H398.52V177.74H396.28zM400.75 170.36H402.98V174.05H400.75zM434.22 170.36H436.45V174.05H434.22zM409.67 162.99H411.90V166.68H409.67zM436.45 162.99H438.68V166.68H436.45zM414.14 159.30H416.37V162.99H414.14zM436.45 159.30H438.68V162.99H436.45zM418.60 155.61H420.83V159.30H418.60zM427.53 151.92H429.76V155.61H427.53z"/>
<path fill="#00a3ff" d="M106.19 502.36H108.42V506.04H106.19zM130.74 498.67H132.97V502.36H130.74zM159.75 469.16H161.98V472.85H159.75zM175.37 454.40H177.60V458.09H175.37zM186.52 443.34H188.75V447.02H186.52zM197.68 432.27H199.91V435.96H197.68zM164.21 428.58H166.44V432.27H164.21zM208.84 421.20H211.07V424.89H208.84zM173.13 417.51H175.37V421.20H173.13zM220.00 410.14H222.23V413.82H220.00zM182.06 406.45H184.29V410.14H182.06zM184.29 402.76H186.52V406.45H184.29zM231.15 399.07H233.38V402.76H231.15zM237.85 391.69H240.08V395.38H237.85zM249.00 380.63H251.24V384.31H249.00zM266.86 362.18H269.09V365.87H266.86zM222.23 358.49H224.46V362.18H222.23zM228.92 351.12H231.15V354.80H228.92zM244.54 332.67H246.77V336.36H244.54zM295.87 332.67H298.10V336.36H295.87zM307.02 321.60H309.26V325.29H307.02zM257.93 317.92H260.16V321.60H257.93zM311.49 317.92H313.72V321.60H311.49zM313.72 314.23H315.95V317.92H313.72zM264.63 310.54H266.86V314.23H264.63zM318.18 310.54H320.41V314.23H318.18zM271.32 303.16H273.55V306.85H271.32zM324.88 303.16H327.11V306.85H324.88zM278.01 295.78H280.25V299.47H278.01zM331.57 295.78H333.80V299.47H331.57zM280.25 292.09H282.48V295.78H280.25zM336.03 292.09H338.26V295.78H336.03zM284.71 288.41H286.94V292.09H284.71zM342.73 284.72H344.96V288.41H342.73zM291.40 281.03H293.63V284.72H291.40zM347.19 281.03H349.42V284.72H347.19zM349.42 277.34H351.65V281.03H349.42zM298.10 273.65H300.33V277.34H298.10zM353.89 273.65H356.12V277.34H353.89zM373.97 251.52H376.20V255.21H373.97zM322.64 247.83H324.88V251.52H322.64zM324.88 244.14H327.11V247.83H324.88zM380.66 244.14H382.90V247.83H380.66zM385.13 240.45H387.36V244.14H385.13zM336.03 233.07H338.26V236.76H336.03zM347.19 222.01H349.42V225.70H347.19zM400.75 222.01H402.98V225.70H400.75zM358.35 210.94H360.58V214.63H358.35zM360.58 207.25H362.81V210.94H360.58zM369.51 199.87H371.74V203.56H369.51zM416.37 199.87H418.60V203.56H416.37zM371.74 196.19H373.97V199.87H371.74zM418.60 196.19H420.83V199.87H418.60zM385.13 185.12H387.36V188.81H385.13zM389.59 181.43H391.82V185.12H389.59zM427.53 181.43H429.76V185.12H427.53zM431.99 174.05H434.22V177.74H431.99zM405.21 166.68H407.44V170.36H405.21zM420.83 155.61H425.29V159.30H420.83zM436.45 155.61H438.68V159.30H436.45zM429.76 151.92H431.99V155.61H429.76zM434.22 151.92H436.45V155.61H434.22z"/>
<path fill="#00bbff" d="M103.96 506.04H106.19V509.73H103.96zM137.43 491.29H139.66V494.98H137.43zM128.50 472.85H130.74V476.53H128.50zM170.90 458.09H173.13V461.78H170.90zM182.06 447.02H184.29V450.71H182.06zM193.22 435.96H195.45V439.65H193.22zM204.38 424.89H206.61V428.58H204.38zM215.53 413.82H217.76V417.51H215.53zM226.69 402.76H228.92V406.45H226.69zM188.75 399.07H190.99V402.76H188.75zM233.38 395.38H235.62V399.07H233.38zM197.68 388.00H199.91V391.69H197.68zM244.54 384.31H246.77V388.00H244.54zM206.61 376.94H208.84V380.63H206.61zM253.47 376.94H255.70V380.63H253.47zM255.70 373.25H257.93V376.94H255.70zM213.30 369.56H215.53V373.25H213.30zM262.39 365.87H264.63V369.56H262.39zM220.00 362.18H222.23V365.87H220.00zM273.55 354.80H275.78V358.49H273.55zM235.62 343.74H237.85V347.43H235.62zM284.71 343.74H286.94V347.43H284.71zM242.31 336.36H244.54V340.05H242.31zM291.40 336.36H293.63V340.05H291.40zM249.00 328.98H251.24V332.67H249.00zM251.24 325.29H253.47V328.98H251.24zM302.56 325.29H304.79V328.98H302.56zM309.26 317.92H311.49V321.60H309.26zM320.41 306.85H322.64V310.54H320.41zM327.11 299.47H329.34V303.16H327.11zM338.26 288.41H340.50V292.09H338.26zM344.96 281.03H347.19V284.72H344.96zM302.56 269.96H304.79V273.65H302.56zM356.12 269.96H358.35V273.65H356.12zM304.79 266.27H307.02V269.96H304.79zM360.58 266.27H362.81V269.96H360.58zM309.26 262.58H311.49V266.27H309.26zM362.81 262.58H365.04V266.27H362.81zM315.95 255.21H318.18V258.90H315.95zM369.51 255.21H371.74V258.90H369.51zM376.20 247.83H378.43V251.52H376.20zM327.11 244.14H329.34V247.83H327.11zM329.34 240.45H331.57V244.14H329.34zM333.80 236.76H336.03V240.45H333.80zM387.36 236.76H389.59V240.45H387.36zM340.50 229.38H342.73V233.07H340.50zM394.05 229.38H396.28V233.07H394.05zM344.96 225.70H347.19V229.38H344.96zM351.65 218.32H353.89V222.01H351.65zM402.98 218.32H405.21V222.01H402.98zM353.89 214.63H356.12V218.32H353.89zM405.21 214.63H407.44V218.32H405.21zM362.81 207.25H365.04V210.94H362.81zM411.90 207.25H414.14V210.94H411.90zM373.97 196.19H376.20V199.87H373.97zM378.43 192.50H380.66V196.19H378.43zM420.83 192.50H423.06V196.19H420.83zM382.90 188.81H385.13V192.50H382.90zM423.06 188.81H425.29V192.50H423.06zM425.29 185.12H427.53V188.81H425.29zM394.05 177.74H396.28V181.43H394.05zM398.52 174.05H400.75V177.74H398.52zM402.98 170.36H405.21V174.05H402.98zM431.99 170.36H434.22V174.05H431.99zM407.44 166.68H409.67V170.36H407.44zM434.22 166.68H436.45V170.36H434.22zM411.90 162.99H414.14V166.68H411.90zM434.22 162.99H436.45V166.68H434.22zM416.37 159.30H418.60V162.99H416.37zM434.22 159.30H436.45V162.99H434.22zM425.29 155.61H429.76V159.30H425.29zM434.22 155.61H436.45V159.30H434.22zM431.99 151.92H434.22V155.61H431.99z"/>
<path fill="#00d3ff" d="M101.73 509.73H103.96V513.42H101.73zM117.35 487.60H119.58V491.29H117.35zM144.12 483.91H146.36V487.60H144.12zM155.28 472.85H157.51V476.53H155.28zM166.44 461.78H168.67V465.47H166.44zM144.12 454.40H146.36V458.09H144.12zM177.60 450.71H179.83V454.40H177.60zM153.05 443.34H155.28V447.02H153.05zM161.98 432.27H164.21V435.96H161.98zM170.90 421.20H173.13V424.89H170.90zM211.07 417.51H213.30V421.20H211.07zM179.83 410.14H182.06V413.82H179.83zM222.23 406.45H224.46V410.14H222.23zM240.08 388.00H242.31V391.69H240.08zM204.38 380.63H206.61V384.31H204.38zM251.24 376.94H253.47V380.63H251.24zM211.07 373.25H213.30V376.94H211.07zM257.93 369.56H260.16V373.25H257.93zM269.09 358.49H271.32V362.18H269.09zM226.69 354.80H228.92V358.49H226.69zM275.78 351.12H278.01V354.80H275.78zM233.38 347.43H235.62V351.12H233.38zM280.25 347.43H282.48V351.12H280.25zM286.94 340.05H289.17V343.74H286.94zM298.10 328.98H300.33V332.67H298.10zM255.70 321.60H257.93V325.29H255.70zM304.79 321.60H307.02V325.29H304.79zM262.39 314.23H264.63V317.92H262.39zM315.95 310.54H318.18V314.23H315.95zM269.09 306.85H271.32V310.54H269.09zM322.64 303.16H324.88V306.85H322.64zM275.78 299.47H278.01V303.16H275.78zM329.34 295.78H331.57V299.47H329.34zM282.48 292.09H284.71V295.78H282.48zM333.80 292.09H336.03V295.78H333.80zM289.17 284.72H291.40V288.41H289.17zM340.50 284.72H342.73V288.41H340.50zM295.87 277.34H298.10V281.03H295.87zM347.19 277.34H349.42V281.03H347.19zM351.65 273.65H353.89V277.34H351.65zM307.02 266.27H309.26V269.96H307.02zM358.35 266.27H360.58V269.96H358.35zM313.72 258.90H315.95V262.58H313.72zM365.04 258.90H369.51V262.58H365.04zM320.41 251.52H322.64V255.21H320.41zM371.74 251.52H373.97V255.21H371.74zM378.43 244.14H380.66V247.83H378.43zM331.57 240.45H333.80V244.14H331.57zM382.90 240.45H385.13V244.14H382.90zM338.26 233.07H340.50V236.76H338.26zM389.59 233.07H391.82V236.76H389.59zM396.28 225.70H398.52V229.38H396.28zM349.42 222.01H351.65V225.70H349.42zM356.12 214.63H358.35V218.32H356.12zM360.58 210.94H362.81V214.63H360.58zM407.44 210.94H409.67V214.63H407.44zM409.67 207.25H411.90V210.94H409.67zM367.27 203.56H369.51V207.25H367.27zM411.90 203.56H414.14V207.25H411.90zM371.74 199.87H373.97V203.56H371.74zM376.20 196.19H378.43V199.87H376.20zM387.36 185.12H389.59V188.81H387.36zM391.82 181.43H394.05V185.12H391.82zM427.53 177.74H429.76V181.43H427.53zM429.76 174.05H431.99V177.74H429.76zM431.99 166.68H434.22V170.36H431.99zM418.60 159.30H423.06V162.99H418.60zM429.76 155.61H434.22V159.30H429.76z"/>
<path fill="#00ebff" d="M119.58 509.73H121.81V513.42H119.58zM126.27 502.36H128.50V506.04H126.27zM126.27 476.53H128.50V480.22H126.27zM135.20 465.47H137.43V469.16H135.20zM188.75 439.65H190.99V443.34H188.75zM199.91 428.58H202.14V432.27H199.91zM206.61 421.20H208.84V424.89H206.61zM217.76 410.14H220.00V413.82H217.76zM186.52 402.76H188.75V406.45H186.52zM228.92 399.07H231.15V402.76H228.92zM195.45 391.69H197.68V395.38H195.45zM235.62 391.69H237.85V395.38H235.62zM246.77 380.63H249.00V384.31H246.77zM253.47 373.25H255.70V376.94H253.47zM217.76 365.87H220.00V369.56H217.76zM264.63 362.18H266.86V365.87H264.63zM224.46 358.49H226.69V362.18H224.46zM271.32 354.80H273.55V358.49H271.32zM282.48 343.74H284.71V347.43H282.48zM240.08 340.05H242.31V343.74H240.08zM246.77 332.67H249.00V336.36H246.77zM293.63 332.67H295.87V336.36H293.63zM253.47 325.29H255.70V328.98H253.47zM300.33 325.29H302.56V328.98H300.33zM260.16 317.92H262.39V321.60H260.16zM307.02 317.92H309.26V321.60H307.02zM311.49 314.23H313.72V317.92H311.49zM266.86 310.54H269.09V314.23H266.86zM318.18 306.85H320.41V310.54H318.18zM273.55 303.16H275.78V306.85H273.55zM324.88 299.47H327.11V303.16H324.88zM280.25 295.78H282.48V299.47H280.25zM286.94 288.41H289.17V292.09H286.94zM336.03 288.41H338.26V292.09H336.03zM293.63 281.03H295.87V284.72H293.63zM342.73 281.03H344.96V284.72H342.73zM300.33 273.65H302.56V277.34H300.33zM353.89 269.96H356.12V273.65H353.89zM311.49 262.58H313.72V266.27H311.49zM360.58 262.58H362.81V266.27H360.58zM318.18 255.21H320.41V258.90H318.18zM367.27 255.21H369.51V258.90H367.27zM324.88 247.83H327.11V251.52H324.88zM373.97 247.83H376.20V251.52H373.97zM329.34 244.14H331.57V247.83H329.34zM380.66 240.45H382.90V244.14H380.66zM336.03 236.76H338.26V240.45H336.03zM385.13 236.76H387.36V240.45H385.13zM342.73 229.38H344.96V233.07H342.73zM391.82 229.38H394.05V233.07H391.82zM347.19 225.70H349.42V229.38H347.19zM398.52 222.01H400.75V225.70H398.52zM353.89 218.32H356.12V222.01H353.89zM400.75 218.32H402.98V222.01H400.75zM358.35 214.63H360.58V218.32H358.35zM365.04 207.25H367.27V210.94H365.04zM369.51 203.56H371.74V207.25H369.51zM414.14 199.87H416.37V203.56H414.14zM416.37 196.19H418.60V199.87H416.37zM380.66 192.50H382.90V196.19H380.66zM418.60 192.50H420.83V196.19H418.60zM385.13 188.81H387.36V192.50H385.13zM420.83 188.81H423.06V192.50H420.83zM423.06 185.12H425.29V188.81H423.06zM425.29 181.43H427.53V185.12H425.29zM396.28 177.74H398.52V181.43H396.28zM400.75 174.05H402.98V177.74H400.75zM405.21 170.36H407.44V174.05H405.21zM429.76 170.36H431.99V174.05H429.76zM409.67 166.68H411.90V170.36H409.67zM414.14 162.99H418.60V166.68H414.14zM431.99 162.99H434.22V166.68H431.99zM423.06 159.30H434.22V162.99H423.06z"/>
<path fill="#00fffc" d="M132.97 494.98H135.20V498.67H132.97zM150.82 476.53H153.05V480.22H150.82zM161.98 465.47H164.21V469.16H161.98zM173.13 454.40H175.37V458.09H173.13zM150.82 447.02H153.05V450.71H150.82zM184.29 443.34H186.52V447.02H184.29zM159.75 435.96H161.98V439.65H159.75zM195.45 432.27H197.68V435.96H195.45zM168.67 424.89H170.90V428.58H168.67zM177.60 413.82H179.83V417.51H177.60zM213.30 413.82H215.53V417.51H213.30zM224.46 402.76H226.69V406.45H224.46zM193.22 395.38H195.45V399.07H193.22zM231.15 395.38H233.38V399.07H231.15zM202.14 384.31H204.38V388.00H202.14zM242.31 384.31H244.54V388.00H242.31zM208.84 376.94H211.07V380.63H208.84zM249.00 376.94H251.24V380.63H249.00zM260.16 365.87H262.39V369.56H260.16zM266.86 358.49H269.09V362.18H266.86zM231.15 351.12H233.38V354.80H231.15zM278.01 347.43H280.25V351.12H278.01zM237.85 343.74H240.08V347.43H237.85zM284.71 340.05H286.94V343.74H284.71zM244.54 336.36H246.77V340.05H244.54zM289.17 336.36H291.40V340.05H289.17zM251.24 328.98H253.47V332.67H251.24zM295.87 328.98H298.10V332.67H295.87zM257.93 321.60H260.16V325.29H257.93zM302.56 321.60H304.79V325.29H302.56zM264.63 314.23H266.86V317.92H264.63zM313.72 310.54H315.95V314.23H313.72zM271.32 306.85H273.55V310.54H271.32zM320.41 303.16H322.64V306.85H320.41zM278.01 299.47H280.25V303.16H278.01zM327.11 295.78H329.34V299.47H327.11zM284.71 292.09H286.94V295.78H284.71zM331.57 292.09H333.80V295.78H331.57zM291.40 284.72H293.63V288.41H291.40zM338.26 284.72H340.50V288.41H338.26zM298.10 277.34H300.33V281.03H298.10zM344.96 277.34H347.19V281.03H344.96zM349.42 273.65H351.65V277.34H349.42zM304.79 269.96H307.02V273.65H304.79zM309.26 266.27H311.49V269.96H309.26zM356.12 266.27H358.35V269.96H356.12zM315.95 258.90H318.18V262.58H315.95zM362.81 258.90H365.04V262.58H362.81zM322.64 251.52H324.88V255.21H322.64zM369.51 251.52H371.74V255.21H369.51zM376.20 244.14H378.43V247.83H376.20zM333.80 240.45H336.03V244.14H333.80zM382.90 236.76H385.13V240.45H382.90zM340.50 233.07H342.73V236.76H340.50zM387.36 233.07H389.59V236.76H387.36zM394.05 225.70H396.28V229.38H394.05zM351.65 222.01H353.89V225.70H351.65zM402.98 214.63H405.21V218.32H402.98zM362.81 210.94H365.04V214.63H362.81zM405.21 210.94H407.44V214.63H405.21zM373.97 199.87H376.20V203.56H373.97zM378.43 196.19H380.66V199.87H378.43zM382.90 192.50H385.13V196.19H382.90zM389.59 185.12H391.82V188.81H389.59zM394.05 181.43H396.28V185.12H394.05zM423.06 181.43H425.29V185.12H423.06zM398.52 177.74H400.75V181.43H398.52zM425.29 177.74H427.53V181.43H425.29zM402.98 174.05H405.21V177.74H402.98zM427.53 174.05H429.76V177.74H427.53zM407.44 170.36H409.67V174.05H407.44zM411.90 166.68H414.14V170.36H411.90zM429.76 166.68H431.99V170.36H429.76zM418.60 162.99H423.06V166.68H418.60zM425.29 162.99H431.99V166.68H425.29z"/>
<path fill="#00ffe4" d="M115.11 513.42H117.35V517.11H115.11zM115.11 491.29H117.35V494.98H115.11zM139.66 487.60H141.89V491.29H139.66zM141.89 458.09H144.12V461.78H141.89zM168.67 458.09H170.90V461.78H168.67zM179.83 447.02H182.06V450.71H179.83zM190.99 435.96H193.22V439.65H190.99zM202.14 424.89H204.38V428.58H202.14zM175.37 417.51H177.60V421.20H175.37zM184.29 406.45H186.52V410.14H184.29zM220.00 406.45H222.23V410.14H220.00zM199.91 388.00H202.14V391.69H199.91zM237.85 388.00H240.08V391.69H237.85zM244.54 380.63H246.77V384.31H244.54zM215.53 369.56H217.76V373.25H215.53zM255.70 369.56H257.93V373.25H255.70zM222.23 362.18H224.46V365.87H222.23zM262.39 362.18H264.63V365.87H262.39zM228.92 354.80H231.15V358.49H228.92zM273.55 351.12H275.78V354.80H273.55zM235.62 347.43H237.85V351.12H235.62zM280.25 343.74H282.48V347.43H280.25zM291.40 332.67H293.63V336.36H291.40zM298.10 325.29H300.33V328.98H298.10zM309.26 314.23H311.49V317.92H309.26zM315.95 306.85H318.18V310.54H315.95zM275.78 303.16H278.01V306.85H275.78zM322.64 299.47H324.88V303.16H322.64zM282.48 295.78H284.71V299.47H282.48zM289.17 288.41H291.40V292.09H289.17zM333.80 288.41H336.03V292.09H333.80zM295.87 281.03H298.10V284.72H295.87zM340.50 281.03H342.73V284.72H340.50zM302.56 273.65H304.79V277.34H302.56zM347.19 273.65H349.42V277.34H347.19zM351.65 269.96H353.89V273.65H351.65zM313.72 262.58H315.95V266.27H313.72zM358.35 262.58H360.58V266.27H358.35zM320.41 255.21H322.64V258.90H320.41zM365.04 255.21H367.27V258.90H365.04zM327.11 247.83H329.34V251.52H327.11zM371.74 247.83H373.97V251.52H371.74zM331.57 244.14H333.80V247.83H331.57zM378.43 240.45H380.66V244.14H378.43zM338.26 236.76H340.50V240.45H338.26zM385.13 233.07H387.36V236.76H385.13zM344.96 229.38H347.19V233.07H344.96zM389.59 229.38H391.82V233.07H389.59zM349.42 225.70H351.65V229.38H349.42zM396.28 222.01H398.52V225.70H396.28zM356.12 218.32H358.35V222.01H356.12zM398.52 218.32H400.75V222.01H398.52zM360.58 214.63H362.81V218.32H360.58zM367.27 207.25H369.51V210.94H367.27zM407.44 207.25H409.67V210.94H407.44zM371.74 203.56H373.97V207.25H371.74zM409.67 203.56H411.90V207.25H409.67zM376.20 199.87H378.43V203.56H376.20zM411.90 199.87H414.14V203.56H411.90zM414.14 196.19H416.37V199.87H414.14zM416.37 192.50H418.60V196.19H416.37zM387.36 188.81H389.59V192.50H387.36zM418.60 188.81H420.83V192.50H418.60zM391.82 185.12H394.05V188.81H391.82zM420.83 185.12H423.06V188.81H420.83zM396.28 181.43H398.52V185.12H396.28zM425.29 174.05H427.53V177.74H425.29zM427.53 170.36H429.76V174.05H427.53zM414.14 166.68H416.37V170.36H414.14zM425.29 166.68H429.76V170.36H425.29zM423.06 162.99H425.29V166.68H423.06z"/>
<path fill="#00ffcc" d="M124.04 480.22H126.27V483.91H124.04zM146.36 480.22H148.59V483.91H146.36zM132.97 469.16H135.20V472.85H132.97zM157.51 469.16H159.75V472.85H157.51zM157.51 439.65H159.75V443.34H157.51zM186.52 439.65H188.75V443.34H186.52zM166.44 428.58H168.67V432.27H166.44zM197.68 428.58H199.91V432.27H197.68zM208.84 417.51H211.07V421.20H208.84zM215.53 410.14H217.76V413.82H215.53zM190.99 399.07H193.22V402.76H190.99zM226.69 399.07H228.92V402.76H226.69zM233.38 391.69H235.62V395.38H233.38zM240.08 384.31H242.31V388.00H240.08zM206.61 380.63H208.84V384.31H206.61zM213.30 373.25H215.53V376.94H213.30zM251.24 373.25H253.47V376.94H251.24zM220.00 365.87H222.23V369.56H220.00zM257.93 365.87H260.16V369.56H257.93zM269.09 354.80H271.32V358.49H269.09zM275.78 347.43H278.01V351.12H275.78zM242.31 340.05H244.54V343.74H242.31zM282.48 340.05H284.71V343.74H282.48zM286.94 336.36H289.17V340.05H286.94zM249.00 332.67H251.24V336.36H249.00zM293.63 328.98H295.87V332.67H293.63zM255.70 325.29H257.93V328.98H255.70zM300.33 321.60H302.56V325.29H300.33zM262.39 317.92H264.63V321.60H262.39zM304.79 317.92H307.02V321.60H304.79zM269.09 310.54H271.32V314.23H269.09zM311.49 310.54H313.72V314.23H311.49zM318.18 303.16H320.41V306.85H318.18zM280.25 299.47H282.48V303.16H280.25zM324.88 295.78H327.11V299.47H324.88zM286.94 292.09H289.17V295.78H286.94zM329.34 292.09H331.57V295.78H329.34zM293.63 284.72H295.87V288.41H293.63zM336.03 284.72H338.26V288.41H336.03zM300.33 277.34H302.56V281.03H300.33zM342.73 277.34H344.96V281.03H342.73zM307.02 269.96H309.26V273.65H307.02zM349.42 269.96H351.65V273.65H349.42zM311.49 266.27H313.72V269.96H311.49zM353.89 266.27H356.12V269.96H353.89zM356.12 262.58H358.35V266.27H356.12zM318.18 258.90H320.41V262.58H318.18zM360.58 258.90H362.81V262.58H360.58zM324.88 251.52H327.11V255.21H324.88zM367.27 251.52H369.51V255.21H367.27zM329.34 247.83H331.57V251.52H329.34zM373.97 244.14H376.20V247.83H373.97zM336.03 240.45H338.26V244.14H336.03zM380.66 236.76H382.90V240.45H380.66zM342.73 233.07H344.96V236.76H342.73zM347.19 229.38H349.42V233.07H347.19zM387.36 229.38H389.59V233.07H387.36zM391.82 225.70H394.05V229.38H391.82zM353.89 222.01H356.12V225.70H353.89zM394.05 222.01H396.28V225.70H394.05zM358.35 218.32H360.58V222.01H358.35zM400.75 214.63H402.98V218.32H400.75zM365.04 210.94H367.27V214.63H365.04zM369.51 207.25H371.74V210.94H369.51zM373.97 203.56H376.20V207.25H373.97zM380.66 196.19H382.90V199.87H380.66zM385.13 192.50H387.36V196.19H385.13zM389.59 188.81H391.82V192.50H389.59zM418.60 185.12H420.83V188.81H418.60zM420.83 181.43H423.06V185.12H420.83zM400.75 177.74H402.98V181.43H400.75zM423.06 177.74H425.29V181.43H423.06zM405.21 174.05H407.44V177.74H405.21zM423.06 174.05H425.29V177.74H423.06zM409.67 170.36H411.90V174.05H409.67zM423.06 170.36H427.53V174.05H423.06zM416.37 166.68H425.29V170.36H416.37z"/>
<path fill="#00ffb4" d="M121.81 506.04H124.04V509.73H121.81zM153.05 472.85H155.28V476.53H153.05zM164.21 461.78H166.44V465.47H164.21zM148.59 450.71H150.82V454.40H148.59zM175.37 450.71H177.60V454.40H175.37zM193.22 432.27H195.45V435.96H193.22zM173.13 421.20H175.37V424.89H173.13zM204.38 421.20H206.61V424.89H204.38zM211.07 413.82H213.30V417.51H211.07zM182.06 410.14H184.29V413.82H182.06zM222.23 402.76H224.46V406.45H222.23zM228.92 395.38H231.15V399.07H228.92zM197.68 391.69H199.91V395.38H197.68zM204.38 384.31H206.61V388.00H204.38zM246.77 376.94H249.00V380.63H246.77zM253.47 369.56H255.70V373.25H253.47zM226.69 358.49H228.92V362.18H226.69zM264.63 358.49H266.86V362.18H264.63zM233.38 351.12H235.62V354.80H233.38zM271.32 351.12H273.55V354.80H271.32zM240.08 343.74H242.31V347.43H240.08zM278.01 343.74H280.25V347.43H278.01zM246.77 336.36H249.00V340.05H246.77zM289.17 332.67H291.40V336.36H289.17zM253.47 328.98H255.70V332.67H253.47zM295.87 325.29H298.10V328.98H295.87zM260.16 321.60H262.39V325.29H260.16zM302.56 317.92H304.79V321.60H302.56zM266.86 314.23H269.09V317.92H266.86zM307.02 314.23H309.26V317.92H307.02zM273.55 306.85H275.78V310.54H273.55zM313.72 306.85H315.95V310.54H313.72zM320.41 299.47H322.64V303.16H320.41zM284.71 295.78H286.94V299.47H284.71zM327.11 292.09H329.34V295.78H327.11zM291.40 288.41H293.63V292.09H291.40zM331.57 288.41H333.80V292.09H331.57zM333.80 284.72H336.03V288.41H333.80zM298.10 281.03H300.33V284.72H298.10zM338.26 281.03H340.50V284.72H338.26zM304.79 273.65H307.02V277.34H304.79zM344.96 273.65H347.19V277.34H344.96zM309.26 269.96H311.49V273.65H309.26zM351.65 266.27H353.89V269.96H351.65zM315.95 262.58H318.18V266.27H315.95zM358.35 258.90H360.58V262.58H358.35zM322.64 255.21H324.88V258.90H322.64zM362.81 255.21H365.04V258.90H362.81zM327.11 251.52H329.34V255.21H327.11zM365.04 251.52H367.27V255.21H365.04zM369.51 247.83H371.74V251.52H369.51zM333.80 244.14H336.03V247.83H333.80zM371.74 244.14H373.97V247.83H371.74zM376.20 240.45H378.43V244.14H376.20zM340.50 236.76H342.73V240.45H340.50zM344.96 233.07H347.19V236.76H344.96zM382.90 233.07H385.13V236.76H382.90zM351.65 225.70H353.89V229.38H351.65zM389.59 225.70H391.82V229.38H389.59zM356.12 222.01H358.35V225.70H356.12zM396.28 218.32H398.52V222.01H396.28zM362.81 214.63H365.04V218.32H362.81zM367.27 210.94H369.51V214.63H367.27zM402.98 210.94H405.21V214.63H402.98zM371.74 207.25H373.97V210.94H371.74zM405.21 207.25H407.44V210.94H405.21zM407.44 203.56H409.67V207.25H407.44zM378.43 199.87H380.66V203.56H378.43zM409.67 199.87H411.90V203.56H409.67zM382.90 196.19H385.13V199.87H382.90zM411.90 196.19H414.14V199.87H411.90zM387.36 192.50H389.59V196.19H387.36zM414.14 192.50H416.37V196.19H414.14zM416.37 188.81H418.60V192.50H416.37zM394.05 185.12H396.28V188.81H394.05zM398.52 181.43H400.75V185.12H398.52zM402.98 177.74H405.21V181.43H402.98zM420.83 177.74H423.06V181.43H420.83zM407.44 174.05H409.67V177.74H407.44zM420.83 174.05H423.06V177.74H420.83zM411.90 170.36H423.06V174.05H411.90z"/>
<path fill="#00ff9c" d="M110.65 517.11H112.88V520.80H110.65zM128.50 498.67H130.74V502.36H128.50zM112.88 494.98H115.11V498.67H112.88zM135.20 491.29H137.43V494.98H135.20zM139.66 461.78H141.89V465.47H139.66zM170.90 454.40H173.13V458.09H170.90zM155.28 443.34H157.51V447.02H155.28zM182.06 443.34H184.29V447.02H182.06zM164.21 432.27H166.44V435.96H164.21zM199.91 424.89H202.14V428.58H199.91zM179.83 413.82H182.06V417.51H179.83zM217.76 406.45H220.00V410.14H217.76zM188.75 402.76H190.99V406.45H188.75zM224.46 399.07H226.69V402.76H224.46zM195.45 395.38H197.68V399.07H195.45zM235.62 388.00H237.85V391.69H235.62zM242.31 380.63H244.54V384.31H242.31zM211.07 376.94H213.30V380.63H211.07zM249.00 373.25H251.24V376.94H249.00zM217.76 369.56H220.00V373.25H217.76zM255.70 365.87H257.93V369.56H255.70zM224.46 362.18H226.69V365.87H224.46zM260.16 362.18H262.39V365.87H260.16zM231.15 354.80H233.38V358.49H231.15zM266.86 354.80H269.09V358.49H266.86zM237.85 347.43H240.08V351.12H237.85zM273.55 347.43H275.78V351.12H273.55zM244.54 340.05H246.77V343.74H244.54zM280.25 340.05H282.48V343.74H280.25zM284.71 336.36H286.94V340.05H284.71zM251.24 332.67H253.47V336.36H251.24zM291.40 328.98H293.63V332.67H291.40zM257.93 325.29H260.16V328.98H257.93zM298.10 321.60H300.33V325.29H298.10zM264.63 317.92H266.86V321.60H264.63zM304.79 314.23H307.02V317.92H304.79zM271.32 310.54H273.55V314.23H271.32zM309.26 310.54H311.49V314.23H309.26zM311.49 306.85H313.72V310.54H311.49zM278.01 303.16H280.25V306.85H278.01zM315.95 303.16H318.18V306.85H315.95zM282.48 299.47H284.71V303.16H282.48zM322.64 295.78H324.88V299.47H322.64zM289.17 292.09H291.40V295.78H289.17zM329.34 288.41H331.57V292.09H329.34zM295.87 284.72H298.10V288.41H295.87zM336.03 281.03H338.26V284.72H336.03zM302.56 277.34H304.79V281.03H302.56zM340.50 277.34H342.73V281.03H340.50zM307.02 273.65H309.26V277.34H307.02zM342.73 273.65H344.96V277.34H342.73zM347.19 269.96H349.42V273.65H347.19zM313.72 266.27H315.95V269.96H313.72zM353.89 262.58H356.12V266.27H353.89zM320.41 258.90H322.64V262.58H320.41zM324.88 255.21H327.11V258.90H324.88zM360.58 255.21H362.81V258.90H360.58zM331.57 247.83H333.80V251.52H331.57zM367.27 247.83H369.51V251.52H367.27zM336.03 244.14H338.26V247.83H336.03zM338.26 240.45H340.50V244.14H338.26zM373.97 240.45H376.20V244.14H373.97zM342.73 236.76H344.96V240.45H342.73zM378.43 236.76H380.66V240.45H378.43zM347.19 233.07H349.42V236.76H347.19zM380.66 233.07H382.90V236.76H380.66zM349.42 229.38H351.65V233.07H349.42zM385.13 229.38H387.36V233.07H385.13zM353.89 225.70H356.12V229.38H353.89zM387.36 225.70H389.59V229.38H387.36zM358.35 222.01H360.58V225.70H358.35zM391.82 222.01H394.05V225.70H391.82zM360.58 218.32H362.81V222.01H360.58zM365.04 214.63H367.27V218.32H365.04zM398.52 214.63H400.75V218.32H398.52zM369.51 210.94H371.74V214.63H369.51zM400.75 210.94H402.98V214.63H400.75zM376.20 203.56H378.43V207.25H376.20zM380.66 199.87H382.90V203.56H380.66zM385.13 196.19H387.36V199.87H385.13zM391.82 188.81H394.05V192.50H391.82zM414.14 188.81H416.37V192.50H414.14zM396.28 185.12H398.52V188.81H396.28zM416.37 185.12H418.60V188.81H416.37zM400.75 181.43H402.98V185.12H400.75zM418.60 181.43H420.83V185.12H418.60zM405.21 177.74H407.44V181.43H405.21zM418.60 177.74H420.83V181.43H418.60zM409.67 174.05H411.90V177.74H409.67zM416.37 174.05H420.83V177.74H416.37z"/>
<path fill="#00ff85" d="M141.89 483.91H144.12V487.60H141.89zM148.59 476.53H150.82V480.22H148.59zM130.74 472.85H132.97V476.53H130.74zM159.75 465.47H161.98V469.16H159.75zM146.36 454.40H148.59V458.09H146.36zM177.60 447.02H179.83V450.71H177.60zM188.75 435.96H190.99V439.65H188.75zM195.45 428.58H197.68V432.27H195.45zM170.90 424.89H173.13V428.58H170.90zM206.61 417.51H208.84V421.20H206.61zM213.30 410.14H215.53V413.82H213.30zM186.52 406.45H188.75V410.14H186.52zM220.00 402.76H222.23V406.45H220.00zM231.15 391.69H233.38V395.38H231.15zM202.14 388.00H204.38V391.69H202.14zM237.85 384.31H240.08V388.00H237.85zM208.84 380.63H211.07V384.31H208.84zM244.54 376.94H246.77V380.63H244.54zM215.53 373.25H217.76V376.94H215.53zM251.24 369.56H253.47V373.25H251.24zM222.23 365.87H224.46V369.56H222.23zM228.92 358.49H231.15V362.18H228.92zM262.39 358.49H264.63V362.18H262.39zM235.62 351.12H237.85V354.80H235.62zM269.09 351.12H271.32V354.80H269.09zM242.31 343.74H244.54V347.43H242.31zM275.78 343.74H278.01V347.43H275.78zM249.00 336.36H251.24V340.05H249.00zM282.48 336.36H284.71V340.05H282.48zM286.94 332.67H289.17V336.36H286.94zM255.70 328.98H257.93V332.67H255.70zM293.63 325.29H295.87V328.98H293.63zM262.39 321.60H264.63V325.29H262.39zM300.33 317.92H302.56V321.60H300.33zM269.09 314.23H271.32V317.92H269.09zM307.02 310.54H309.26V314.23H307.02zM275.78 306.85H278.01V310.54H275.78zM280.25 303.16H282.48V306.85H280.25zM313.72 303.16H315.95V306.85H313.72zM318.18 299.47H320.41V303.16H318.18zM286.94 295.78H289.17V299.47H286.94zM320.41 295.78H322.64V299.47H320.41zM324.88 292.09H327.11V295.78H324.88zM293.63 288.41H295.87V292.09H293.63zM331.57 284.72H333.80V288.41H331.57zM300.33 281.03H302.56V284.72H300.33zM304.79 277.34H307.02V281.03H304.79zM338.26 277.34H340.50V281.03H338.26zM311.49 269.96H313.72V273.65H311.49zM344.96 269.96H347.19V273.65H344.96zM349.42 266.27H351.65V269.96H349.42zM318.18 262.58H320.41V266.27H318.18zM351.65 262.58H353.89V266.27H351.65zM322.64 258.90H324.88V262.58H322.64zM356.12 258.90H358.35V262.58H356.12zM358.35 255.21H360.58V258.90H358.35zM329.34 251.52H331.57V255.21H329.34zM362.81 251.52H365.04V255.21H362.81zM333.80 247.83H336.03V251.52H333.80zM365.04 247.83H367.27V251.52H365.04zM369.51 244.14H371.74V247.83H369.51zM340.50 240.45H342.73V244.14H340.50zM371.74 240.45H373.97V244.14H371.74zM344.96 236.76H347.19V240.45H344.96zM376.20 236.76H378.43V240.45H376.20zM351.65 229.38H353.89V233.07H351.65zM382.90 229.38H385.13V233.07H382.90zM356.12 225.70H358.35V229.38H356.12zM389.59 222.01H391.82V225.70H389.59zM362.81 218.32H365.04V222.01H362.81zM394.05 218.32H396.28V222.01H394.05zM367.27 214.63H369.51V218.32H367.27zM396.28 214.63H398.52V218.32H396.28zM371.74 210.94H373.97V214.63H371.74zM398.52 210.94H400.75V214.63H398.52zM373.97 207.25H376.20V210.94H373.97zM402.98 207.25H405.21V210.94H402.98zM378.43 203.56H380.66V207.25H378.43zM405.21 203.56H407.44V207.25H405.21zM382.90 199.87H385.13V203.56H382.90zM407.44 199.87H409.67V203.56H407.44zM387.36 196.19H389.59V199.87H387.36zM409.67 196.19H411.90V199.87H409.67zM389.59 192.50H391.82V196.19H389.59zM411.90 192.50H414.14V196.19H411.90zM394.05 188.81H396.28V192.50H394.05zM398.52 185.12H400.75V188.81H398.52zM414.14 185.12H416.37V188.81H414.14zM402.98 181.43H405.21V185.12H402.98zM416.37 181.43H418.60V185.12H416.37zM407.44 177.74H409.67V181.43H407.44zM414.14 177.74H418.60V181.43H414.14zM411.90 174.05H416.37V177.74H411.90z"/>
<path fill="#00ff6d" d="M121.81 483.91H124.04V487.60H121.81zM155.28 469.16H157.51V472.85H155.28zM166.44 458.09H168.67V461.78H166.44zM184.29 439.65H186.52V443.34H184.29zM161.98 435.96H164.21V439.65H161.98zM202.14 421.20H204.38V424.89H202.14zM177.60 417.51H179.83V421.20H177.60zM208.84 413.82H211.07V417.51H208.84zM215.53 406.45H217.76V410.14H215.53zM193.22 399.07H195.45V402.76H193.22zM226.69 395.38H228.92V399.07H226.69zM199.91 391.69H202.14V395.38H199.91zM233.38 388.00H235.62V391.69H233.38zM206.61 384.31H208.84V388.00H206.61zM240.08 380.63H242.31V384.31H240.08zM213.30 376.94H215.53V380.63H213.30zM246.77 373.25H249.00V376.94H246.77zM253.47 365.87H255.70V369.56H253.47zM257.93 362.18H260.16V365.87H257.93zM233.38 354.80H235.62V358.49H233.38zM264.63 354.80H266.86V358.49H264.63zM240.08 347.43H242.31V351.12H240.08zM271.32 347.43H273.55V351.12H271.32zM246.77 340.05H249.00V343.74H246.77zM278.01 340.05H280.25V343.74H278.01zM253.47 332.67H255.70V336.36H253.47zM284.71 332.67H286.94V336.36H284.71zM289.17 328.98H291.40V332.67H289.17zM260.16 325.29H262.39V328.98H260.16zM291.40 325.29H293.63V328.98H291.40zM295.87 321.60H298.10V325.29H295.87zM266.86 317.92H269.09V321.60H266.86zM302.56 314.23H304.79V317.92H302.56zM273.55 310.54H275.78V314.23H273.55zM278.01 306.85H280.25V310.54H278.01zM309.26 306.85H311.49V310.54H309.26zM284.71 299.47H286.94V303.16H284.71zM315.95 299.47H318.18V303.16H315.95zM291.40 292.09H293.63V295.78H291.40zM322.64 292.09H324.88V295.78H322.64zM295.87 288.41H298.10V292.09H295.87zM327.11 288.41H329.34V292.09H327.11zM298.10 284.72H300.33V288.41H298.10zM329.34 284.72H331.57V288.41H329.34zM302.56 281.03H304.79V284.72H302.56zM333.80 281.03H336.03V284.72H333.80zM336.03 277.34H338.26V281.03H336.03zM309.26 273.65H311.49V277.34H309.26zM340.50 273.65H342.73V277.34H340.50zM313.72 269.96H315.95V273.65H313.72zM342.73 269.96H344.96V273.65H342.73zM315.95 266.27H318.18V269.96H315.95zM347.19 266.27H349.42V269.96H347.19zM320.41 262.58H322.64V266.27H320.41zM349.42 262.58H351.65V266.27H349.42zM324.88 258.90H327.11V262.58H324.88zM353.89 258.90H356.12V262.58H353.89zM327.11 255.21H329.34V258.90H327.11zM356.12 255.21H358.35V258.90H356.12zM331.57 251.52H333.80V255.21H331.57zM360.58 251.52H362.81V255.21H360.58zM336.03 247.83H338.26V251.52H336.03zM362.81 247.83H365.04V251.52H362.81zM338.26 244.14H340.50V247.83H338.26zM367.27 244.14H369.51V247.83H367.27zM342.73 240.45H344.96V244.14H342.73zM347.19 236.76H349.42V240.45H347.19zM373.97 236.76H376.20V240.45H373.97zM349.42 233.07H351.65V236.76H349.42zM378.43 233.07H380.66V236.76H378.43zM353.89 229.38H356.12V233.07H353.89zM380.66 229.38H382.90V233.07H380.66zM358.35 225.70H360.58V229.38H358.35zM385.13 225.70H387.36V229.38H385.13zM360.58 222.01H362.81V225.70H360.58zM387.36 222.01H389.59V225.70H387.36zM365.04 218.32H367.27V222.01H365.04zM391.82 218.32H394.05V222.01H391.82zM369.51 214.63H371.74V218.32H369.51zM394.05 214.63H396.28V218.32H394.05zM373.97 210.94H376.20V214.63H373.97zM376.20 207.25H378.43V210.94H376.20zM400.75 207.25H402.98V210.94H400.75zM380.66 203.56H382.90V207.25H380.66zM402.98 203.56H405.21V207.25H402.98zM385.13 199.87H387.36V203.56H385.13zM405.21 199.87H407.44V203.56H405.21zM389.59 196.19H391.82V199.87H389.59zM391.82 192.50H396.28V196.19H391.82zM409.67 192.50H411.90V196.19H409.67zM396.28 188.81H398.52V192.50H396.28zM411.90 188.81H414.14V192.50H411.90zM400.75 185.12H402.98V188.81H400.75zM405.21 181.43H409.67V185.12H405.21zM411.90 181.43H416.37V185.12H411.90zM409.67 177.74H414.14V181.43H409.67z"/>
<path fill="#00ff55" d="M117.35 509.73H119.58V513.42H117.35zM124.04 502.36H126.27V506.04H124.04zM110.65 498.67H112.88V502.36H110.65zM130.74 494.98H132.97V498.67H130.74zM137.43 487.60H139.66V491.29H137.43zM137.43 465.47H139.66V469.16H137.43zM161.98 461.78H164.21V465.47H161.98zM173.13 450.71H175.37V454.40H173.13zM153.05 447.02H155.28V450.71H153.05zM179.83 443.34H182.06V447.02H179.83zM190.99 432.27H193.22V435.96H190.99zM168.67 428.58H170.90V432.27H168.67zM197.68 424.89H199.91V428.58H197.68zM204.38 417.51H206.61V421.20H204.38zM184.29 410.14H186.52V413.82H184.29zM190.99 402.76H193.22V406.45H190.99zM222.23 399.07H224.46V402.76H222.23zM228.92 391.69H231.15V395.38H228.92zM235.62 384.31H237.85V388.00H235.62zM242.31 376.94H244.54V380.63H242.31zM220.00 369.56H222.23V373.25H220.00zM249.00 369.56H251.24V373.25H249.00zM226.69 362.18H228.92V365.87H226.69zM255.70 362.18H257.93V365.87H255.70zM260.16 358.49H262.39V362.18H260.16zM237.85 351.12H240.08V354.80H237.85zM266.86 351.12H269.09V354.80H266.86zM244.54 343.74H246.77V347.43H244.54zM273.55 343.74H275.78V347.43H273.55zM251.24 336.36H253.47V340.05H251.24zM280.25 336.36H282.48V340.05H280.25zM257.93 328.98H260.16V332.67H257.93zM286.94 328.98H289.17V332.67H286.94zM264.63 321.60H266.86V325.29H264.63zM293.63 321.60H295.87V325.29H293.63zM269.09 317.92H271.32V321.60H269.09zM298.10 317.92H300.33V321.60H298.10zM271.32 314.23H273.55V317.92H271.32zM300.33 314.23H302.56V317.92H300.33zM275.78 310.54H278.01V314.23H275.78zM304.79 310.54H307.02V314.23H304.79zM307.02 306.85H309.26V310.54H307.02zM282.48 303.16H284.71V306.85H282.48zM311.49 303.16H313.72V306.85H311.49zM313.72 299.47H315.95V303.16H313.72zM289.17 295.78H291.40V299.47H289.17zM318.18 295.78H320.41V299.47H318.18zM293.63 292.09H295.87V295.78H293.63zM320.41 292.09H322.64V295.78H320.41zM324.88 288.41H327.11V292.09H324.88zM300.33 284.72H302.56V288.41H300.33zM327.11 284.72H329.34V288.41H327.11zM304.79 281.03H307.02V284.72H304.79zM331.57 281.03H333.80V284.72H331.57zM307.02 277.34H309.26V281.03H307.02zM333.80 277.34H336.03V281.03H333.80zM311.49 273.65H313.72V277.34H311.49zM338.26 273.65H340.50V277.34H338.26zM315.95 269.96H318.18V273.65H315.95zM340.50 269.96H342.73V273.65H340.50zM318.18 266.27H320.41V269.96H318.18zM344.96 266.27H347.19V269.96H344.96zM322.64 262.58H324.88V266.27H322.64zM347.19 262.58H349.42V266.27H347.19zM327.11 258.90H329.34V262.58H327.11zM351.65 258.90H353.89V262.58H351.65zM329.34 255.21H331.57V258.90H329.34zM353.89 255.21H356.12V258.90H353.89zM333.80 251.52H336.03V255.21H333.80zM358.35 251.52H360.58V255.21H358.35zM338.26 247.83H340.50V251.52H338.26zM360.58 247.83H362.81V251.52H360.58zM340.50 244.14H342.73V247.83H340.50zM365.04 244.14H367.27V247.83H365.04zM344.96 240.45H347.19V244.14H344.96zM367.27 240.45H371.74V244.14H367.27zM349.42 236.76H351.65V240.45H349.42zM371.74 236.76H373.97V240.45H371.74zM351.65 233.07H353.89V236.76H351.65zM373.97 233.07H378.43V236.76H373.97zM356.12 229.38H358.35V233.07H356.12zM378.43 229.38H380.66V233.07H378.43zM360.58 225.70H362.81V229.38H360.58zM380.66 225.70H385.13V229.38H380.66zM362.81 222.01H367.27V225.70H362.81zM385.13 222.01H387.36V225.70H385.13zM367.27 218.32H369.51V222.01H367.27zM387.36 218.32H391.82V222.01H387.36zM371.74 214.63H373.97V218.32H371.74zM391.82 214.63H394.05V218.32H391.82zM376.20 210.94H378.43V214.63H376.20zM394.05 210.94H398.52V214.63H394.05zM378.43 207.25H382.90V210.94H378.43zM398.52 207.25H400.75V210.94H398.52zM382.90 203.56H387.36V207.25H382.90zM400.75 203.56H402.98V207.25H400.75zM387.36 199.87H389.59V203.56H387.36zM402.98 199.87H405.21V203.56H402.98zM391.82 196.19H394.05V199.87H391.82zM405.21 196.19H409.67V199.87H405.21zM396.28 192.50H398.52V196.19H396.28zM407.44 192.50H409.67V196.19H407.44zM398.52 188.81H402.98V192.50H398.52zM409.67 188.81H411.90V192.50H409.67zM402.98 185.12H414.14V188.81H402.98zM409.67 181.43H411.90V185.12H409.67z"/>
<path fill="#00ff3d" d="M144.12 480.22H146.36V483.91H144.12zM128.50 476.53H130.74V480.22H128.50zM150.82 472.85H153.05V476.53H150.82zM144.12 458.09H146.36V461.78H144.12zM168.67 454.40H170.90V458.09H168.67zM159.75 439.65H161.98V443.34H159.75zM186.52 435.96H188.75V439.65H186.52zM193.22 428.58H195.45V432.27H193.22zM175.37 421.20H177.60V424.89H175.37zM182.06 413.82H184.29V417.51H182.06zM211.07 410.14H213.30V413.82H211.07zM217.76 402.76H220.00V406.45H217.76zM197.68 395.38H199.91V399.07H197.68zM224.46 395.38H226.69V399.07H224.46zM204.38 388.00H206.61V391.69H204.38zM231.15 388.00H233.38V391.69H231.15zM211.07 380.63H213.30V384.31H211.07zM237.85 380.63H240.08V384.31H237.85zM217.76 373.25H220.00V376.94H217.76zM244.54 373.25H246.77V376.94H244.54zM224.46 365.87H226.69V369.56H224.46zM251.24 365.87H253.47V369.56H251.24zM231.15 358.49H233.38V362.18H231.15zM257.93 358.49H260.16V362.18H257.93zM235.62 354.80H237.85V358.49H235.62zM262.39 354.80H264.63V358.49H262.39zM264.63 351.12H266.86V354.80H264.63zM242.31 347.43H244.54V351.12H242.31zM269.09 347.43H271.32V351.12H269.09zM271.32 343.74H273.55V347.43H271.32zM249.00 340.05H251.24V343.74H249.00zM275.78 340.05H278.01V343.74H275.78zM278.01 336.36H280.25V340.05H278.01zM255.70 332.67H257.93V336.36H255.70zM282.48 332.67H284.71V336.36H282.48zM284.71 328.98H286.94V332.67H284.71zM262.39 325.29H264.63V328.98H262.39zM289.17 325.29H291.40V328.98H289.17zM266.86 321.60H269.09V325.29H266.86zM291.40 321.60H293.63V325.29H291.40zM295.87 317.92H298.10V321.60H295.87zM273.55 314.23H275.78V317.92H273.55zM298.10 314.23H300.33V317.92H298.10zM302.56 310.54H304.79V314.23H302.56zM280.25 306.85H282.48V310.54H280.25zM304.79 306.85H307.02V310.54H304.79zM284.71 303.16H286.94V306.85H284.71zM309.26 303.16H311.49V306.85H309.26zM286.94 299.47H289.17V303.16H286.94zM311.49 299.47H313.72V303.16H311.49zM291.40 295.78H293.63V299.47H291.40zM315.95 295.78H318.18V299.47H315.95zM295.87 292.09H298.10V295.78H295.87zM318.18 292.09H320.41V295.78H318.18zM298.10 288.41H300.33V292.09H298.10zM322.64 288.41H324.88V292.09H322.64zM302.56 284.72H304.79V288.41H302.56zM324.88 284.72H327.11V288.41H324.88zM307.02 281.03H309.26V284.72H307.02zM329.34 281.03H331.57V284.72H329.34zM309.26 277.34H311.49V281.03H309.26zM331.57 277.34H333.80V281.03H331.57zM313.72 273.65H315.95V277.34H313.72zM336.03 273.65H338.26V277.34H336.03zM318.18 269.96H320.41V273.65H318.18zM338.26 269.96H340.50V273.65H338.26zM320.41 266.27H322.64V269.96H320.41zM342.73 266.27H344.96V269.96H342.73zM324.88 262.58H327.11V266.27H324.88zM344.96 262.58H347.19V266.27H344.96zM329.34 258.90H331.57V262.58H329.34zM349.42 258.90H351.65V262.58H349.42zM331.57 255.21H333.80V258.90H331.57zM351.65 255.21H353.89V258.90H351.65zM336.03 251.52H338.26V255.21H336.03zM356.12 251.52H358.35V255.21H356.12zM340.50 247.83H342.73V251.52H340.50zM358.35 247.83H360.58V251.52H358.35zM342.73 244.14H347.19V247.83H342.73zM360.58 244.14H365.04V247.83H360.58zM347.19 240.45H351.65V244.14H347.19zM365.04 240.45H367.27V244.14H365.04zM351.65 236.76H353.89V240.45H351.65zM367.27 236.76H371.74V240.45H367.27zM353.89 233.07H358.35V236.76H353.89zM371.74 233.07H373.97V236.76H371.74zM358.35 229.38H362.81V233.07H358.35zM373.97 229.38H378.43V233.07H373.97zM362.81 225.70H367.27V229.38H362.81zM378.43 225.70H380.66V229.38H378.43zM367.27 222.01H371.74V225.70H367.27zM380.66 222.01H385.13V225.70H380.66zM369.51 218.32H373.97V222.01H369.51zM382.90 218.32H387.36V222.01H382.90zM373.97 214.63H378.43V218.32H373.97zM387.36 214.63H391.82V218.32H387.36zM378.43 210.94H382.90V214.63H378.43zM389.59 210.94H394.05V214.63H389.59zM382.90 207.25H387.36V210.94H382.90zM394.05 207.25H398.52V210.94H394.05zM387.36 203.56H391.82V207.25H387.36zM396.28 203.56H400.75V207.25H396.28zM389.59 199.87H402.98V203.56H389.59zM394.05 196.19H405.21V199.87H394.05zM398.52 192.50H407.44V196.19H398.52zM402.98 188.81H409.67V192.50H402.98z"/>
<path fill="#00ff25" d="M119.58 487.60H121.81V491.29H119.58zM135.20 469.16H137.43V472.85H135.20zM157.51 465.47H159.75V469.16H157.51zM150.82 450.71H153.05V454.40H150.82zM175.37 447.02H177.60V450.71H175.37zM182.06 439.65H184.29V443.34H182.06zM166.44 432.27H168.67V435.96H166.44zM188.75 432.27H190.99V435.96H188.75zM173.13 424.89H175.37V428.58H173.13zM199.91 421.20H202.14V424.89H199.91zM206.61 413.82H208.84V417.51H206.61zM188.75 406.45H190.99V410.14H188.75zM213.30 406.45H215.53V410.14H213.30zM195.45 399.07H197.68V402.76H195.45zM220.00 399.07H222.23V402.76H220.00zM202.14 391.69H204.38V395.38H202.14zM226.69 391.69H228.92V395.38H226.69zM208.84 384.31H211.07V388.00H208.84zM233.38 384.31H235.62V388.00H233.38zM215.53 376.94H217.76V380.63H215.53zM240.08 376.94H242.31V380.63H240.08zM222.23 369.56H224.46V373.25H222.23zM246.77 369.56H249.00V373.25H246.77zM228.92 362.18H231.15V365.87H228.92zM253.47 362.18H255.70V365.87H253.47zM233.38 358.49H235.62V362.18H233.38zM260.16 354.80H262.39V358.49H260.16zM240.08 351.12H242.31V354.80H240.08zM266.86 347.43H269.09V351.12H266.86zM246.77 343.74H249.00V347.43H246.77zM273.55 340.05H275.78V343.74H273.55zM253.47 336.36H255.70V340.05H253.47zM257.93 332.67H260.16V336.36H257.93zM280.25 332.67H282.48V336.36H280.25zM260.16 328.98H262.39V332.67H260.16zM264.63 325.29H266.86V328.98H264.63zM286.94 325.29H289.17V328.98H286.94zM271.32 317.92H273.55V321.60H271.32zM293.63 317.92H295.87V321.60H293.63zM275.78 314.23H278.01V317.92H275.78zM278.01 310.54H280.25V314.23H278.01zM300.33 310.54H302.56V314.23H300.33zM282.48 306.85H284.71V310.54H282.48zM302.56 306.85H304.79V310.54H302.56zM286.94 303.16H289.17V306.85H286.94zM307.02 303.16H309.26V306.85H307.02zM289.17 299.47H291.40V303.16H289.17zM309.26 299.47H311.49V303.16H309.26zM293.63 295.78H295.87V299.47H293.63zM313.72 295.78H315.95V299.47H313.72zM298.10 292.09H300.33V295.78H298.10zM315.95 292.09H318.18V295.78H315.95zM300.33 288.41H302.56V292.09H300.33zM320.41 288.41H322.64V292.09H320.41zM304.79 284.72H307.02V288.41H304.79zM322.64 284.72H324.88V288.41H322.64zM309.26 281.03H311.49V284.72H309.26zM324.88 281.03H329.34V284.72H324.88zM311.49 277.34H315.95V281.03H311.49zM329.34 277.34H331.57V281.03H329.34zM315.95 273.65H318.18V277.34H315.95zM331.57 273.65H336.03V277.34H331.57zM320.41 269.96H322.64V273.65H320.41zM336.03 269.96H338.26V273.65H336.03zM322.64 266.27H327.11V269.96H322.64zM338.26 266.27H342.73V269.96H338.26zM327.11 262.58H331.57V266.27H327.11zM340.50 262.58H344.96V266.27H340.50zM331.57 258.90H336.03V262.58H331.57zM344.96 258.90H349.42V262.58H344.96zM333.80 255.21H340.50V258.90H333.80zM347.19 255.21H351.65V258.90H347.19zM338.26 251.52H344.96V255.21H338.26zM349.42 251.52H356.12V255.21H349.42zM342.73 247.83H349.42V251.52H342.73zM351.65 247.83H358.35V251.52H351.65zM347.19 244.14H360.58V247.83H347.19zM351.65 240.45H365.04V244.14H351.65zM353.89 236.76H367.27V240.45H353.89zM358.35 233.07H371.74V236.76H358.35zM362.81 229.38H373.97V233.07H362.81zM367.27 225.70H378.43V229.38H367.27zM371.74 222.01H380.66V225.70H371.74zM373.97 218.32H382.90V222.01H373.97zM378.43 214.63H387.36V218.32H378.43zM382.90 210.94H389.59V214.63H382.90zM387.36 207.25H394.05V210.94H387.36zM391.82 203.56H396.28V207.25H391.82z"/>
<path fill="#00ff0e" d="M112.88 513.42H115.11V517.11H112.88zM108.42 502.36H110.65V506.04H108.42zM139.66 483.91H141.89V487.60H139.66zM146.36 476.53H148.59V480.22H146.36zM141.89 461.78H144.12V465.47H141.89zM164.21 458.09H166.44V461.78H164.21zM170.90 450.71H173.13V454.40H170.90zM157.51 443.34H159.75V447.02H157.51zM177.60 443.34H179.83V447.02H177.60zM164.21 435.96H166.44V439.65H164.21zM195.45 424.89H197.68V428.58H195.45zM179.83 417.51H182.06V421.20H179.83zM202.14 417.51H204.38V421.20H202.14zM186.52 410.14H188.75V413.82H186.52zM208.84 410.14H211.07V413.82H208.84zM193.22 402.76H195.45V406.45H193.22zM215.53 402.76H217.76V406.45H215.53zM199.91 395.38H202.14V399.07H199.91zM222.23 395.38H224.46V399.07H222.23zM206.61 388.00H208.84V391.69H206.61zM228.92 388.00H231.15V391.69H228.92zM213.30 380.63H215.53V384.31H213.30zM235.62 380.63H237.85V384.31H235.62zM220.00 373.25H222.23V376.94H220.00zM242.31 373.25H244.54V376.94H242.31zM244.54 369.56H246.77V373.25H244.54zM226.69 365.87H228.92V369.56H226.69zM249.00 365.87H251.24V369.56H249.00zM231.15 362.18H233.38V365.87H231.15zM251.24 362.18H253.47V365.87H251.24zM255.70 358.49H257.93V362.18H255.70zM237.85 354.80H240.08V358.49H237.85zM257.93 354.80H260.16V358.49H257.93zM262.39 351.12H264.63V354.80H262.39zM244.54 347.43H246.77V351.12H244.54zM264.63 347.43H266.86V351.12H264.63zM249.00 343.74H251.24V347.43H249.00zM269.09 343.74H271.32V347.43H269.09zM251.24 340.05H253.47V343.74H251.24zM271.32 340.05H273.55V343.74H271.32zM255.70 336.36H257.93V340.05H255.70zM275.78 336.36H278.01V340.05H275.78zM260.16 332.67H262.39V336.36H260.16zM278.01 332.67H280.25V336.36H278.01zM262.39 328.98H264.63V332.67H262.39zM282.48 328.98H284.71V332.67H282.48zM266.86 325.29H269.09V328.98H266.86zM284.71 325.29H286.94V328.98H284.71zM269.09 321.60H271.32V325.29H269.09zM286.94 321.60H291.40V325.29H286.94zM273.55 317.92H275.78V321.60H273.55zM291.40 317.92H293.63V321.60H291.40zM278.01 314.23H280.25V317.92H278.01zM293.63 314.23H298.10V317.92H293.63zM280.25 310.54H284.71V314.23H280.25zM298.10 310.54H300.33V314.23H298.10zM284.71 306.85H286.94V310.54H284.71zM300.33 306.85H302.56V310.54H300.33zM289.17 303.16H291.40V306.85H289.17zM302.56 303.16H307.02V306.85H302.56zM291.40 299.47H295.87V303.16H291.40zM307.02 299.47H309.26V303.16H307.02zM295.87 295.78H300.33V299.47H295.87zM309.26 295.78H313.72V299.47H309.26zM300.33 292.09H302.56V295.78H300.33zM311.49 292.09H315.95V295.78H311.49zM302.56 288.41H307.02V292.09H302.56zM315.95 288.41H320.41V292.09H315.95zM307.02 284.72H311.49V288.41H307.02zM318.18 284.72H322.64V288.41H318.18zM311.49 281.03H315.95V284.72H311.49zM320.41 281.03H324.88V284.72H320.41zM315.95 277.34H329.34V281.03H315.95zM318.18 273.65H331.57V277.34H318.18zM322.64 269.96H336.03V273.65H322.64zM327.11 266.27H338.26V269.96H327.11zM331.57 262.58H340.50V266.27H331.57zM336.03 258.90H344.96V262.58H336.03zM340.50 255.21H347.19V258.90H340.50zM344.96 251.52H349.42V255.21H344.96zM349.42 247.83H351.65V251.52H349.42z"/>
<path fill="#0aff00" d="M119.58 506.04H121.81V509.73H119.58zM126.27 498.67H128.50V502.36H126.27zM132.97 491.29H135.20V494.98H132.97zM126.27 480.22H128.50V483.91H126.27zM153.05 469.16H155.28V472.85H153.05zM159.75 461.78H161.98V465.47H159.75zM148.59 454.40H150.82V458.09H148.59zM155.28 447.02H157.51V450.71H155.28zM184.29 435.96H186.52V439.65H184.29zM170.90 428.58H173.13V432.27H170.90zM190.99 428.58H193.22V432.27H190.99zM177.60 421.20H179.83V424.89H177.60zM197.68 421.20H199.91V424.89H197.68zM184.29 413.82H186.52V417.51H184.29zM204.38 413.82H206.61V417.51H204.38zM190.99 406.45H193.22V410.14H190.99zM211.07 406.45H213.30V410.14H211.07zM197.68 399.07H199.91V402.76H197.68zM217.76 399.07H220.00V402.76H217.76zM204.38 391.69H206.61V395.38H204.38zM224.46 391.69H226.69V395.38H224.46zM226.69 388.00H228.92V391.69H226.69zM211.07 384.31H213.30V388.00H211.07zM231.15 384.31H233.38V388.00H231.15zM233.38 380.63H235.62V384.31H233.38zM217.76 376.94H220.00V380.63H217.76zM237.85 376.94H240.08V380.63H237.85zM222.23 373.25H224.46V376.94H222.23zM240.08 373.25H242.31V376.94H240.08zM224.46 369.56H226.69V373.25H224.46zM228.92 365.87H231.15V369.56H228.92zM246.77 365.87H249.00V369.56H246.77zM249.00 362.18H251.24V365.87H249.00zM235.62 358.49H237.85V362.18H235.62zM253.47 358.49H255.70V362.18H253.47zM240.08 354.80H242.31V358.49H240.08zM255.70 354.80H257.93V358.49H255.70zM242.31 351.12H244.54V354.80H242.31zM260.16 351.12H262.39V354.80H260.16zM246.77 347.43H249.00V351.12H246.77zM262.39 347.43H264.63V351.12H262.39zM251.24 343.74H253.47V347.43H251.24zM266.86 343.74H269.09V347.43H266.86zM253.47 340.05H255.70V343.74H253.47zM269.09 340.05H271.32V343.74H269.09zM257.93 336.36H260.16V340.05H257.93zM271.32 336.36H275.78V340.05H271.32zM262.39 332.67H264.63V336.36H262.39zM275.78 332.67H278.01V336.36H275.78zM264.63 328.98H266.86V332.67H264.63zM278.01 328.98H282.48V332.67H278.01zM269.09 325.29H271.32V328.98H269.09zM280.25 325.29H284.71V328.98H280.25zM271.32 321.60H275.78V325.29H271.32zM284.71 321.60H286.94V325.29H284.71zM275.78 317.92H280.25V321.60H275.78zM286.94 317.92H291.40V321.60H286.94zM280.25 314.23H284.71V317.92H280.25zM289.17 314.23H293.63V317.92H289.17zM284.71 310.54H289.17V314.23H284.71zM291.40 310.54H298.10V314.23H291.40zM286.94 306.85H300.33V310.54H286.94zM291.40 303.16H302.56V306.85H291.40zM295.87 299.47H307.02V303.16H295.87zM300.33 295.78H309.26V299.47H300.33zM302.56 292.09H311.49V295.78H302.56zM307.02 288.41H315.95V292.09H307.02zM311.49 284.72H318.18V288.41H311.49zM315.95 281.03H320.41V284.72H315.95z"/>
<path fill="#22ff00" d="M117.35 491.29H119.58V494.98H117.35zM132.97 472.85H135.20V476.53H132.97zM166.44 454.40H168.67V458.09H166.44zM173.13 447.02H175.37V450.71H173.13zM161.98 439.65H164.21V443.34H161.98zM179.83 439.65H182.06V443.34H179.83zM168.67 432.27H170.90V435.96H168.67zM186.52 432.27H188.75V435.96H186.52zM175.37 424.89H177.60V428.58H175.37zM193.22 424.89H195.45V428.58H193.22zM199.91 417.51H202.14V421.20H199.91zM188.75 410.14H190.99V413.82H188.75zM206.61 410.14H208.84V413.82H206.61zM195.45 402.76H197.68V406.45H195.45zM213.30 402.76H215.53V406.45H213.30zM215.53 399.07H217.76V402.76H215.53zM202.14 395.38H204.38V399.07H202.14zM220.00 395.38H222.23V399.07H220.00zM222.23 391.69H224.46V395.38H222.23zM208.84 388.00H211.07V391.69H208.84zM228.92 384.31H231.15V388.00H228.92zM215.53 380.63H217.76V384.31H215.53zM220.00 376.94H222.23V380.63H220.00zM235.62 376.94H237.85V380.63H235.62zM237.85 373.25H240.08V376.94H237.85zM226.69 369.56H228.92V373.25H226.69zM242.31 369.56H244.54V373.25H242.31zM231.15 365.87H233.38V369.56H231.15zM244.54 365.87H246.77V369.56H244.54zM233.38 362.18H235.62V365.87H233.38zM246.77 362.18H249.00V365.87H246.77zM237.85 358.49H240.08V362.18H237.85zM251.24 358.49H253.47V362.18H251.24zM242.31 354.80H244.54V358.49H242.31zM253.47 354.80H255.70V358.49H253.47zM244.54 351.12H249.00V354.80H244.54zM255.70 351.12H260.16V354.80H255.70zM249.00 347.43H253.47V351.12H249.00zM260.16 347.43H262.39V351.12H260.16zM253.47 343.74H255.70V347.43H253.47zM262.39 343.74H266.86V347.43H262.39zM255.70 340.05H262.39V343.74H255.70zM264.63 340.05H269.09V343.74H264.63zM260.16 336.36H271.32V340.05H260.16zM264.63 332.67H275.78V336.36H264.63zM266.86 328.98H278.01V332.67H266.86zM271.32 325.29H280.25V328.98H271.32zM275.78 321.60H284.71V325.29H275.78zM280.25 317.92H286.94V321.60H280.25zM284.71 314.23H289.17V317.92H284.71zM289.17 310.54H291.40V314.23H289.17z"/>
<path fill="#3aff00" d="M108.42 517.11H110.65V520.80H108.42zM106.19 506.04H108.42V509.73H106.19zM135.20 487.60H137.43V491.29H135.20zM124.04 483.91H126.27V487.60H124.04zM141.89 480.22H144.12V483.91H141.89zM148.59 472.85H150.82V476.53H148.59zM139.66 465.47H141.89V469.16H139.66zM155.28 465.47H157.51V469.16H155.28zM146.36 458.09H148.59V461.78H146.36zM161.98 458.09H164.21V461.78H161.98zM153.05 450.71H155.28V454.40H153.05zM168.67 450.71H170.90V454.40H168.67zM159.75 443.34H161.98V447.02H159.75zM175.37 443.34H177.60V447.02H175.37zM182.06 435.96H184.29V439.65H182.06zM188.75 428.58H190.99V432.27H188.75zM195.45 421.20H197.68V424.89H195.45zM182.06 417.51H184.29V421.20H182.06zM202.14 413.82H204.38V417.51H202.14zM204.38 410.14H206.61V413.82H204.38zM193.22 406.45H195.45V410.14H193.22zM208.84 406.45H211.07V410.14H208.84zM211.07 402.76H213.30V406.45H211.07zM199.91 399.07H202.14V402.76H199.91zM217.76 395.38H220.00V399.07H217.76zM206.61 391.69H208.84V395.38H206.61zM220.00 391.69H222.23V395.38H220.00zM211.07 388.00H213.30V391.69H211.07zM224.46 388.00H226.69V391.69H224.46zM213.30 384.31H215.53V388.00H213.30zM226.69 384.31H228.92V388.00H226.69zM217.76 380.63H220.00V384.31H217.76zM228.92 380.63H233.38V384.31H228.92zM222.23 376.94H224.46V380.63H222.23zM233.38 376.94H235.62V380.63H233.38zM224.46 373.25H228.92V376.94H224.46zM235.62 373.25H237.85V376.94H235.62zM228.92 369.56H231.15V373.25H228.92zM237.85 369.56H242.31V373.25H237.85zM233.38 365.87H235.62V369.56H233.38zM240.08 365.87H244.54V369.56H240.08zM235.62 362.18H246.77V365.87H235.62zM240.08 358.49H251.24V362.18H240.08zM244.54 354.80H253.47V358.49H244.54zM249.00 351.12H255.70V354.80H249.00zM253.47 347.43H260.16V351.12H253.47zM255.70 343.74H262.39V347.43H255.70zM262.39 340.05H264.63V343.74H262.39z"/>
<path fill="#52ff00" d="M115.11 509.73H117.35V513.42H115.11zM121.81 502.36H124.04V506.04H121.81zM115.11 494.98H117.35V498.67H115.11zM128.50 494.98H130.74V498.67H128.50zM130.74 476.53H132.97V480.22H130.74zM164.21 454.40H166.44V458.09H164.21zM170.90 447.02H173.13V450.71H170.90zM177.60 439.65H179.83V443.34H177.60zM166.44 435.96H168.67V439.65H166.44zM184.29 432.27H186.52V435.96H184.29zM173.13 428.58H175.37V432.27H173.13zM190.99 424.89H193.22V428.58H190.99zM179.83 421.20H182.06V424.89H179.83zM184.29 417.51H186.52V421.20H184.29zM197.68 417.51H199.91V421.20H197.68zM186.52 413.82H188.75V417.51H186.52zM199.91 413.82H202.14V417.51H199.91zM190.99 410.14H193.22V413.82H190.99zM206.61 406.45H208.84V410.14H206.61zM197.68 402.76H199.91V406.45H197.68zM208.84 402.76H211.07V406.45H208.84zM202.14 399.07H204.38V402.76H202.14zM213.30 399.07H215.53V402.76H213.30zM204.38 395.38H206.61V399.07H204.38zM215.53 395.38H217.76V399.07H215.53zM208.84 391.69H211.07V395.38H208.84zM217.76 391.69H220.00V395.38H217.76zM213.30 388.00H215.53V391.69H213.30zM220.00 388.00H224.46V391.69H220.00zM215.53 384.31H220.00V388.00H215.53zM222.23 384.31H226.69V388.00H222.23zM220.00 380.63H228.92V384.31H220.00zM224.46 376.94H233.38V380.63H224.46zM228.92 373.25H235.62V376.94H228.92zM231.15 369.56H237.85V373.25H231.15zM235.62 365.87H240.08V369.56H235.62z"/>
<path fill="#69ff00" d="M137.43 483.91H139.66V487.60H137.43zM144.12 476.53H146.36V480.22H144.12zM137.43 469.16H139.66V472.85H137.43zM150.82 469.16H153.05V472.85H150.82zM144.12 461.78H146.36V465.47H144.12zM157.51 461.78H159.75V465.47H157.51zM150.82 454.40H153.05V458.09H150.82zM157.51 447.02H159.75V450.71H157.51zM173.13 443.34H175.37V447.02H173.13zM164.21 439.65H166.44V443.34H164.21zM179.83 435.96H182.06V439.65H179.83zM170.90 432.27H173.13V435.96H170.90zM186.52 428.58H188.75V432.27H186.52zM177.60 424.89H179.83V428.58H177.60zM188.75 424.89H190.99V428.58H188.75zM182.06 421.20H184.29V424.89H182.06zM193.22 421.20H195.45V424.89H193.22zM195.45 417.51H197.68V421.20H195.45zM188.75 413.82H190.99V417.51H188.75zM197.68 413.82H199.91V417.51H197.68zM193.22 410.14H195.45V413.82H193.22zM202.14 410.14H204.38V413.82H202.14zM195.45 406.45H199.91V410.14H195.45zM204.38 406.45H206.61V410.14H204.38zM199.91 402.76H208.84V406.45H199.91zM204.38 399.07H213.30V402.76H204.38zM206.61 395.38H215.53V399.07H206.61zM211.07 391.69H217.76V395.38H211.07zM215.53 388.00H220.00V391.69H215.53zM220.00 384.31H222.23V388.00H220.00z"/>
<path fill="#81ff00" d="M101.73 513.42H103.96V517.11H101.73zM103.96 509.73H106.19V513.42H103.96zM130.74 491.29H132.97V494.98H130.74zM121.81 487.60H124.04V491.29H121.81zM128.50 480.22H130.74V483.91H128.50zM146.36 472.85H148.59V476.53H146.36zM153.05 465.47H155.28V469.16H153.05zM148.59 458.09H150.82V461.78H148.59zM159.75 458.09H161.98V461.78H159.75zM155.28 450.71H157.51V454.40H155.28zM166.44 450.71H168.67V454.40H166.44zM168.67 447.02H170.90V450.71H168.67zM161.98 443.34H164.21V447.02H161.98zM175.37 439.65H177.60V443.34H175.37zM168.67 435.96H170.90V439.65H168.67zM173.13 432.27H175.37V435.96H173.13zM182.06 432.27H184.29V435.96H182.06zM175.37 428.58H177.60V432.27H175.37zM184.29 428.58H186.52V432.27H184.29zM179.83 424.89H182.06V428.58H179.83zM186.52 424.89H188.75V428.58H186.52zM184.29 421.20H186.52V424.89H184.29zM188.75 421.20H193.22V424.89H188.75zM186.52 417.51H195.45V421.20H186.52zM190.99 413.82H197.68V417.51H190.99zM195.45 410.14H202.14V413.82H195.45zM199.91 406.45H204.38V410.14H199.91z"/>
<path fill="#99ff00" d="M110.65 513.42H112.88V517.11H110.65zM117.35 506.04H119.58V509.73H117.35zM112.88 498.67H115.11V502.36H112.88zM124.04 498.67H126.27V502.36H124.04zM139.66 480.22H141.89V483.91H139.66zM135.20 472.85H137.43V476.53H135.20zM148.59 469.16H150.82V472.85H148.59zM141.89 465.47H144.12V469.16H141.89zM155.28 461.78H157.51V465.47H155.28zM153.05 454.40H155.28V458.09H153.05zM161.98 454.40H164.21V458.09H161.98zM164.21 450.71H166.44V454.40H164.21zM159.75 447.02H161.98V450.71H159.75zM170.90 443.34H173.13V447.02H170.90zM166.44 439.65H168.67V443.34H166.44zM173.13 439.65H175.37V443.34H173.13zM170.90 435.96H173.13V439.65H170.90zM175.37 435.96H179.83V439.65H175.37zM175.37 432.27H182.06V435.96H175.37zM177.60 428.58H184.29V432.27H177.60zM182.06 424.89H186.52V428.58H182.06zM186.52 421.20H188.75V424.89H186.52z"/>
<path fill="#b1ff00" d="M119.58 491.29H121.81V494.98H119.58zM132.97 487.60H135.20V491.29H132.97zM126.27 483.91H128.50V487.60H126.27zM132.97 476.53H135.20V480.22H132.97zM141.89 476.53H144.12V480.22H141.89zM139.66 469.16H141.89V472.85H139.66zM150.82 465.47H153.05V469.16H150.82zM146.36 461.78H148.59V465.47H146.36zM150.82 458.09H153.05V461.78H150.82zM157.51 458.09H159.75V461.78H157.51zM159.75 454.40H161.98V458.09H159.75zM157.51 450.71H159.75V454.40H157.51zM161.98 450.71H164.21V454.40H161.98zM161.98 447.02H168.67V450.71H161.98zM164.21 443.34H170.90V447.02H164.21zM168.67 439.65H173.13V443.34H168.67zM173.13 435.96H175.37V439.65H173.13z"/>
<path fill="#c9ff00" d="M110.65 502.36H112.88V506.04H110.65zM126.27 494.98H128.50V498.67H126.27zM135.20 483.91H137.43V487.60H135.20zM144.12 472.85H146.36V476.53H144.12zM146.36 469.16H148.59V472.85H146.36zM144.12 465.47H146.36V469.16H144.12zM148.59 461.78H150.82V465.47H148.59zM153.05 461.78H155.28V465.47H153.05zM153.05 458.09H157.51V461.78H153.05zM155.28 454.40H159.75V458.09H155.28zM159.75 450.71H161.98V454.40H159.75z"/>
<path fill="#e0ff00" d="M106.19 517.11H108.42V520.80H106.19zM112.88 509.73H115.11V513.42H112.88zM119.58 502.36H121.81V506.04H119.58zM117.35 494.98H119.58V498.67H117.35zM128.50 491.29H130.74V494.98H128.50zM124.04 487.60H126.27V491.29H124.04zM130.74 480.22H132.97V483.91H130.74zM137.43 480.22H139.66V483.91H137.43zM139.66 476.53H141.89V480.22H139.66zM137.43 472.85H139.66V476.53H137.43zM141.89 469.16H146.36V472.85H141.89zM146.36 465.47H150.82V469.16H146.36zM150.82 461.78H153.05V465.47H150.82z"/>
<path fill="#f8ff00" d="M108.42 506.04H110.65V509.73H108.42zM121.81 498.67H124.04V502.36H121.81zM130.74 487.60H132.97V491.29H130.74zM128.50 483.91H130.74V487.60H128.50zM132.97 483.91H135.20V487.60H132.97zM135.20 480.22H137.43V483.91H135.20zM135.20 476.53H139.66V480.22H135.20zM139.66 472.85H144.12V476.53H139.66z"/>
<path fill="#ffee00" d="M115.11 506.04H117.35V509.73H115.11zM115.11 498.67H117.35V502.36H115.11zM124.04 494.98H126.27V498.67H124.04zM121.81 491.29H124.04V494.98H121.81zM126.27 491.29H128.50V494.98H126.27zM126.27 487.60H130.74V491.29H126.27zM130.74 483.91H132.97V487.60H130.74zM132.97 480.22H135.20V483.91H132.97z"/>
<path fill="#ffd600" d="M108.42 513.42H110.65V517.11H108.42zM106.19 509.73H108.42V513.42H106.19zM117.35 502.36H119.58V506.04H117.35zM119.58 494.98H121.81V498.67H119.58zM124.04 491.29H126.27V494.98H124.04z"/>
<path fill="#ffbe00" d="M110.65 509.73H112.88V513.42H110.65zM112.88 502.36H115.11V506.04H112.88zM117.35 498.67H121.81V502.36H117.35zM121.81 494.98H124.04V498.67H121.81z"/>
<path fill="#ffa700" d="M103.96 517.11H106.19V520.80H103.96zM103.96 513.42H106.19V517.11H103.96zM110.65 506.04H115.11V509.73H110.65zM115.11 502.36H117.35V506.04H115.11z"/>
<path fill="#ff8f00" d="M106.19 513.42H108.42V517.11H106.19zM108.42 509.73H110.65V513.42H108.42z"/>
<path fill="#ff0000" d="M92.80 517.11H103.96V520.80H92.80z"/>
</g>
<g shape-rendering="crispEdges">
<rect x="541.80" y="511.28" width="28.20" height="9.82" fill="#9200ff"/>
<rect x="541.80" y="502.06" width="28.20" height="9.82" fill="#7a00ff"/>
<rect x="541.80" y="492.83" width="28.20" height="9.82" fill="#6300ff"/>
<rect x="541.80" y="483.61" width="28.20" height="9.82" fill="#4b00ff"/>
<rect x="541.80" y="474.39" width="28.20" height="9.82" fill="#3300ff"/>
<rect x="541.80" y="465.17" width="28.20" height="9.82" fill="#1b00ff"/>
<rect x="541.80" y="455.95" width="28.20" height="9.82" fill="#0300ff"/>
<rect x="541.80" y="446.72" width="28.20" height="9.82" fill="#0014ff"/>
<rect x="541.80" y="437.50" width="28.20" height="9.82" fill="#002cff"/>
<rect x="541.80" y="428.28" width="28.20" height="9.82" fill="#0044ff"/>
<rect x="541.80" y="419.06" width="28.20" height="9.82" fill="#005cff"/>
<rect x="541.80" y="409.84" width="28.20" height="9.82" fill="#0074ff"/>
<rect x="541.80" y="400.61" width="28.20" height="9.82" fill="#008bff"/>
<rect x="541.80" y="391.39" width="28.20" height="9.82" fill="#00a3ff"/>
<rect x="541.80" y="382.17" width="28.20" height="9.82" fill="#00bbff"/>
<rect x="541.80" y="372.95" width="28.20" height="9.82" fill="#00d3ff"/>
<rect x="541.80" y="363.73" width="28.20" height="9.82" fill="#00ebff"/>
<rect x="541.80" y="354.50" width="28.20" height="9.82" fill="#00fffc"/>
<rect x="541.80" y="345.28" width="28.20" height="9.82" fill="#00ffe4"/>
<rect x="541.80" y="336.06" width="28.20" height="9.82" fill="#00ffcc"/>
<rect x="541.80" y="326.84" width="28.20" height="9.82" fill="#00ffb4"/>
<rect x="541.80" y="317.62" width="28.20" height="9.82" fill="#00ff9c"/>
<rect x="541.80" y="308.39" width="28.20" height="9.82" fill="#00ff85"/>
<rect x="541.80" y="299.17" width="28.20" height="9.82" fill="#00ff6d"/>
<rect x="541.80" y="289.95" width="28.20" height="9.82" fill="#00ff55"/>
<rect x="541.80" y="280.73" width="28.20" height="9.82" fill="#00ff3d"/>
<rect x="541.80" y="271.51" width="28.20" height="9.82" fill="#00ff25"/>
<rect x="541.80" y="262.28" width="28.20" height="9.82" fill="#00ff0e"/>
<rect x="541.80" y="253.06" width="28.20" height="9.82" fill="#0aff00"/>
<rect x="541.80" y="243.84" width="28.20" height="9.82" fill="#22ff00"/>
<rect x="541.80" y="234.62" width="28.20" height="9.82" fill="#3aff00"/>
<rect x="541.80" y="225.40" width="28.20" height="9.82" fill="#52ff00"/>
<rect x="541.80" y="216.17" width="28.20" height="9.82" fill="#69ff00"/>
<rect x="541.80" y="206.95" width="28.20" height="9.82" fill="#81ff00"/>
<rect x="541.80" y="197.73" width="28.20" height="9.82" fill="#99ff00"/>
<rect x="541.80" y="188.51" width="28.20" height="9.82" fill="#b1ff00"/>
<rect x="541.80" y="179.29" width="28.20" height="9.82" fill="#c9ff00"/>
<rect x="541.80" y="170.06" width="28.20" height="9.82" fill="#e0ff00"/>
<rect x="541.80" y="160.84" width="28.20" height="9.82" fill="#f8ff00"/>
<rect x="541.80" y="151.62" width="28.20" height="9.82" fill="#ffee00"/>
<rect x="541.80" y="142.40" width="28.20" height="9.82" fill="#ffd600"/>
<rect x="541.80" y="133.18" width="28.20" height="9.82" fill="#ffbe00"/>
<rect x="541.80" y="123.95" width="28.20" height="9.82" fill="#ffa700"/>
<rect x="541.80" y="114.73" width="28.20" height="9.82" fill="#ff8f00"/>
<rect x="541.80" y="105.51" width="28.20" height="9.82" fill="#ff7700"/>
<rect x="541.80" y="96.29" width="28.20" height="9.82" fill="#ff5f00"/>
<rect x="541.80" y="87.07" width="28.20" height="9.82" fill="#ff4700"/>
<rect x="541.80" y="77.84" width="28.20" height="9.82" fill="#ff3000"/>
<rect x="541.80" y="68.62" width="28.20" height="9.82" fill="#ff1800"/>
<rect x="541.80" y="58.80" width="28.20" height="10.42" fill="#ff0000"/>
</g>
<path d="M92.80 59.70H539.10V520.80H92.80ZM92.80 520.80L92.80 508.90M92.80 59.70L92.80 72.20M103.96 520.80L103.96 514.65M103.96 59.70L103.96 65.85M115.11 520.80L115.11 514.65M115.11 59.70L115.11 65.85M126.27 520.80L126.27 514.65M126.27 59.70L126.27 65.85M137.43 520.80L137.43 514.65M137.43 59.70L137.43 65.85M148.59 520.80L148.59 508.90M148.59 59.70L148.59 72.20M159.75 520.80L159.75 514.65M159.75 59.70L159.75 65.85M170.90 520.80L170.90 514.65M170.90 59.70L170.90 65.85M182.06 520.80L182.06 514.65M182.06 59.70L182.06 65.85M193.22 520.80L193.22 514.65M193.22 59.70L193.22 65.85M204.38 520.80L204.38 508.90M204.38 59.70L204.38 72.20M215.53 520.80L215.53 514.65M215.53 59.70L215.53 65.85M226.69 520.80L226.69 514.65M226.69 59.70L226.69 65.85M237.85 520.80L237.85 514.65M237.85 59.70L237.85 65.85M249.00 520.80L249.00 514.65M249.00 59.70L249.00 65.85M260.16 520.80L260.16 508.90M260.16 59.70L260.16 72.20M271.32 520.80L271.32 514.65M271.32 59.70L271.32 65.85M282.48 520.80L282.48 514.65M282.48 59.70L282.48 65.85M293.63 520.80L293.63 514.65M293.63 59.70L293.63 65.85M304.79 520.80L304.79 514.65M304.79 59.70L304.79 65.85M315.95 520.80L315.95 508.90M315.95 59.70L315.95 72.20M327.11 520.80L327.11 514.65M327.11 59.70L327.11 65.85M338.27 520.80L338.27 514.65M338.27 59.70L338.27 65.85M349.42 520.80L349.42 514.65M349.42 59.70L349.42 65.85M360.58 520.80L360.58 514.65M360.58 59.70L360.58 65.85M371.74 520.80L371.74 508.90M371.74 59.70L371.74 72.20M382.90 520.80L382.90 514.65M382.90 59.70L382.90 65.85M394.05 520.80L394.05 514.65M394.05 59.70L394.05 65.85M405.21 520.80L405.21 514.65M405.21 59.70L405.21 65.85M416.37 520.80L416.37 514.65M416.37 59.70L416.37 65.85M427.53 520.80L427.53 508.90M427.53 59.70L427.53 72.20M438.68 520.80L438.68 514.65M438.68 59.70L438.68 65.85M449.84 520.80L449.84 514.65M449.84 59.70L449.84 65.85M461.00 520.80L461.00 514.65M461.00 59.70L461.00 65.85M472.16 520.80L472.16 514.65M472.16 59.70L472.16 65.85M483.31 520.80L483.31 508.90M483.31 59.70L483.31 72.20M494.47 520.80L494.47 514.65M494.47 59.70L494.47 65.85M505.63 520.80L505.63 514.65M505.63 59.70L505.63 65.85M516.78 520.80L516.78 514.65M516.78 59.70L516.78 65.85M527.94 520.80L527.94 514.65M527.94 59.70L527.94 65.85M539.10 520.80L539.10 508.90M539.10 59.70L539.10 72.20M92.80 520.80L107.20 520.80M539.10 520.80L524.70 520.80M92.80 502.36L100.00 502.36M539.10 502.36L531.90 502.36M92.80 483.91L100.00 483.91M539.10 483.91L531.90 483.91M92.80 465.47L100.00 465.47M539.10 465.47L531.90 465.47M92.80 447.02L100.00 447.02M539.10 447.02L531.90 447.02M92.80 428.58L107.20 428.58M539.10 428.58L524.70 428.58M92.80 410.14L100.00 410.14M539.10 410.14L531.90 410.14M92.80 391.69L100.00 391.69M539.10 391.69L531.90 391.69M92.80 373.25L100.00 373.25M539.10 373.25L531.90 373.25M92.80 354.80L100.00 354.80M539.10 354.80L531.90 354.80M92.80 336.36L107.20 336.36M539.10 336.36L524.70 336.36M92.80 317.92L100.00 317.92M539.10 317.92L531.90 317.92M92.80 299.47L100.00 299.47M539.10 299.47L531.90 299.47M92.80 281.03L100.00 281.03M539.10 281.03L531.90 281.03M92.80 262.58L100.00 262.58M539.10 262.58L531.90 262.58M92.80 244.14L107.20 244.14M539.10 244.14L524.70 244.14M92.80 225.70L100.00 225.70M539.10 225.70L531.90 225.70M92.80 207.25L100.00 207.25M539.10 207.25L531.90 207.25M92.80 188.81L100.00 188.81M539.10 188.81L531.90 188.81M92.80 170.36L100.00 170.36M539.10 170.36L531.90 170.36M92.80 151.92L107.20 151.92M539.10 151.92L524.70 151.92M92.80 133.48L100.00 133.48M539.10 133.48L531.90 133.48M92.80 115.03L100.00 115.03M539.10 115.03L531.90 115.03M92.80 96.59L100.00 96.59M539.10 96.59L531.90 96.59M92.80 78.14L100.00 78.14M539.10 78.14L531.90 78.14M92.80 59.70L107.20 59.70M539.10 59.70L524.70 59.70" stroke="#1c1c1c" stroke-width="1.25" fill="none" stroke-linecap="butt"/>
<path d="M570.00 59.70L570.00 520.80M541.80 521.00L570.00 521.00M570.00 520.70L556.00 520.70M570.00 495.00L563.00 495.00M570.00 479.96L563.00 479.96M570.00 469.29L563.00 469.29M570.00 461.02L563.00 461.02M570.00 454.25L563.00 454.25M570.00 448.54L563.00 448.54M570.00 443.59L563.00 443.59M570.00 439.22L563.00 439.22M570.00 435.31L556.00 435.31M570.00 409.61L563.00 409.61M570.00 394.57L563.00 394.57M570.00 383.90L563.00 383.90M570.00 375.63L563.00 375.63M570.00 368.87L563.00 368.87M570.00 363.15L563.00 363.15M570.00 358.20L563.00 358.20M570.00 353.83L563.00 353.83M570.00 349.92L556.00 349.92M570.00 324.22L563.00 324.22M570.00 309.18L563.00 309.18M570.00 298.51L563.00 298.51M570.00 290.24L563.00 290.24M570.00 283.48L563.00 283.48M570.00 277.76L563.00 277.76M570.00 272.81L563.00 272.81M570.00 268.44L563.00 268.44M570.00 264.53L556.00 264.53M570.00 238.83L563.00 238.83M570.00 223.79L563.00 223.79M570.00 213.12L563.00 213.12M570.00 204.85L563.00 204.85M570.00 198.09L563.00 198.09M570.00 192.37L563.00 192.37M570.00 187.42L563.00 187.42M570.00 183.05L563.00 183.05M570.00 179.14L556.00 179.14M570.00 153.44L563.00 153.44M570.00 138.40L563.00 138.40M570.00 127.74L563.00 127.74M570.00 119.46L563.00 119.46M570.00 112.70L563.00 112.70M570.00 106.98L563.00 106.98M570.00 102.03L563.00 102.03M570.00 97.66L563.00 97.66M570.00 93.76L556.00 93.76M570.00 68.05L563.00 68.05" stroke="#1a1a00" stroke-width="0.95" fill="none" stroke-linecap="butt"/>
<filter id="tsoft" filterUnits="userSpaceOnUse" x="0" y="0" width="620" height="592"><feGaussianBlur stdDeviation="0.3"/></filter>
<g font-family='"Liberation Sans", "DejaVu Sans", sans-serif' fill="#000" stroke="#000" stroke-width="0.22" filter="url(#tsoft)">
<text transform="translate(92.60,540.40) scale(1,1.050)" font-size="18.20" text-anchor="middle" >0</text>
<text transform="translate(147.59,540.40) scale(1,1.050)" font-size="18.20" text-anchor="middle" >500</text>
<text transform="translate(203.38,540.40) scale(1,1.050)" font-size="18.20" text-anchor="middle" >1000</text>
<text transform="translate(259.16,540.40) scale(1,1.050)" font-size="18.20" text-anchor="middle" >1500</text>
<text transform="translate(314.95,540.40) scale(1,1.050)" font-size="18.20" text-anchor="middle" >2000</text>
<text transform="translate(370.74,540.40) scale(1,1.050)" font-size="18.20" text-anchor="middle" >2500</text>
<text transform="translate(426.53,540.40) scale(1,1.050)" font-size="18.20" text-anchor="middle" >3000</text>
<text transform="translate(482.31,540.40) scale(1,1.050)" font-size="18.20" text-anchor="middle" >3500</text>
<text transform="translate(538.10,540.40) scale(1,1.050)" font-size="18.20" text-anchor="middle" >4000</text>
<text transform="translate(88.80,529.00) scale(1,1.050)" font-size="18.20" text-anchor="end" >0</text>
<text transform="translate(88.30,435.38) scale(1,1.050)" font-size="18.20" text-anchor="end" >50</text>
<text transform="translate(88.30,343.16) scale(1,1.050)" font-size="18.20" text-anchor="end" >100</text>
<text transform="translate(88.30,250.94) scale(1,1.050)" font-size="18.20" text-anchor="end" >150</text>
<text transform="translate(88.30,158.72) scale(1,1.050)" font-size="18.20" text-anchor="end" >200</text>
<text transform="translate(88.30,66.50) scale(1,1.050)" font-size="18.20" text-anchor="end" >250</text>
<text x="576.80" y="528.40" font-size="18.20" text-anchor="start" >1</text>
<text x="576.80" y="443.01" font-size="18.20" text-anchor="start" >10</text>
<text x="576.7" y="357.62" font-size="18.20">10<tspan dy="-7.7" font-size="12.5">2</tspan></text>
<text x="576.7" y="272.23" font-size="18.20">10<tspan dy="-7.7" font-size="12.5">3</tspan></text>
<text x="576.7" y="186.84" font-size="18.20">10<tspan dy="-7.7" font-size="12.5">4</tspan></text>
<text x="576.7" y="101.46" font-size="18.20">10<tspan dy="-7.7" font-size="12.5">5</tspan></text>
<text x="537.60" y="577.80" font-size="22.45" text-anchor="end" >charged track multiplicity</text>
<text transform="translate(42.3,58.3) rotate(-90)" font-size="22.45" text-anchor="end" stroke-width="0.3">ρ (GeV/c)</text>
<text x="121.3" y="102.3" font-size="18.75">ALICE Pb-Pb, </text>
<text x="260.3" y="102.3" font-size="18.75">s</text>
<text x="268.7" y="107.9" font-size="12.55">NN</text>
<text x="291.3" y="102.3" font-size="19.10">= 5.02 TeV</text>
<path d="M251.0 90.8L255.2 107.9" stroke="#000" stroke-width="1.9" fill="none"/>
<path d="M255.2 108.0L257.7 84.2H286.5" stroke="#777" stroke-width="0.55" fill="none"/>
<text x="120.9" y="152" font-size="18.75" font-style="italic">p</text>
<text x="132.2" y="161.2" font-size="13.35">T,track</text>
<text x="175.6" y="152" font-size="18.75">&gt; 0.15 GeV/c</text>
<text x="122.6" y="215.3" font-size="22.35" font-weight="bold">ALICE Preliminary</text>
</g>
<text transform="translate(3.2,589.3) scale(1.125,1)" font-family='"Liberation Mono", "DejaVu Sans Mono", monospace' font-weight="bold" font-size="11.6" fill="#bebebe">ALI-PREL-113553</text>
</svg>
</body></html>
